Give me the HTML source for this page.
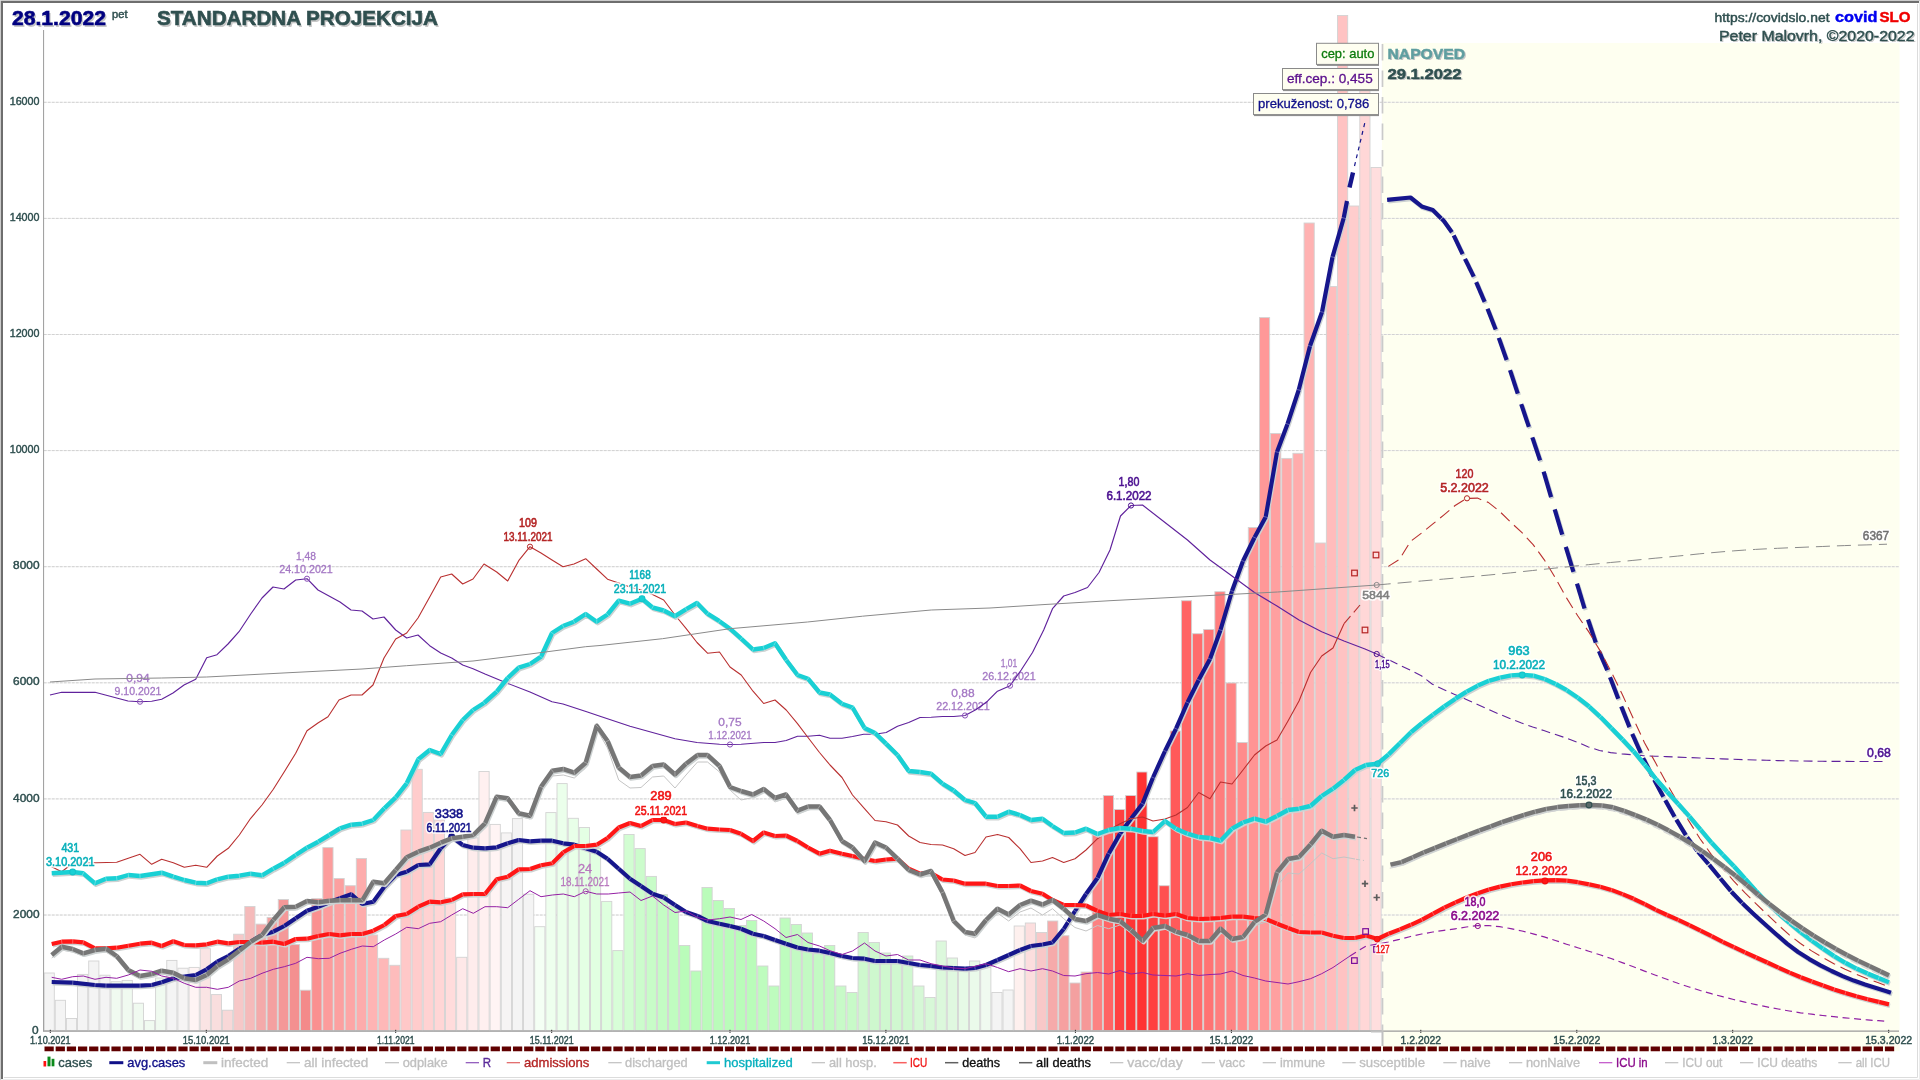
<!DOCTYPE html>
<html><head><meta charset="utf-8"><title>covidSLO</title>
<style>html,body{margin:0;padding:0;background:#fff;overflow:hidden}svg{display:block}text{font-family:"Liberation Sans",sans-serif}</style>
</head><body>
<svg width="1920" height="1080" viewBox="0 0 1920 1080" font-family="Liberation Sans, sans-serif">
<rect x="0" y="0" width="1920" height="1080" fill="#ffffff"/>
<defs><filter id="idf" x="0" y="0" width="1920" height="1080" filterUnits="userSpaceOnUse" color-interpolation-filters="sRGB"><feOffset dx="0" dy="0"/></filter></defs>
<g filter="url(#idf)">
<rect x="1382" y="43" width="517.5" height="1008" fill="#FEFFF0"/>
<line x1="44" y1="915.0" x2="1899" y2="915.0" stroke="#eeeeee" stroke-width="1"/>
<line x1="44" y1="915.0" x2="1899" y2="915.0" stroke="#d2d2d2" stroke-width="1" stroke-dasharray="2.6 1.4"/>
<line x1="44" y1="798.9" x2="1899" y2="798.9" stroke="#eeeeee" stroke-width="1"/>
<line x1="44" y1="798.9" x2="1899" y2="798.9" stroke="#d2d2d2" stroke-width="1" stroke-dasharray="2.6 1.4"/>
<line x1="44" y1="682.8" x2="1899" y2="682.8" stroke="#eeeeee" stroke-width="1"/>
<line x1="44" y1="682.8" x2="1899" y2="682.8" stroke="#d2d2d2" stroke-width="1" stroke-dasharray="2.6 1.4"/>
<line x1="44" y1="566.7" x2="1899" y2="566.7" stroke="#eeeeee" stroke-width="1"/>
<line x1="44" y1="566.7" x2="1899" y2="566.7" stroke="#d2d2d2" stroke-width="1" stroke-dasharray="2.6 1.4"/>
<line x1="44" y1="450.6" x2="1899" y2="450.6" stroke="#eeeeee" stroke-width="1"/>
<line x1="44" y1="450.6" x2="1899" y2="450.6" stroke="#d2d2d2" stroke-width="1" stroke-dasharray="2.6 1.4"/>
<line x1="44" y1="334.5" x2="1899" y2="334.5" stroke="#eeeeee" stroke-width="1"/>
<line x1="44" y1="334.5" x2="1899" y2="334.5" stroke="#d2d2d2" stroke-width="1" stroke-dasharray="2.6 1.4"/>
<line x1="44" y1="218.4" x2="1899" y2="218.4" stroke="#eeeeee" stroke-width="1"/>
<line x1="44" y1="218.4" x2="1899" y2="218.4" stroke="#d2d2d2" stroke-width="1" stroke-dasharray="2.6 1.4"/>
<line x1="44" y1="102.3" x2="1899" y2="102.3" stroke="#eeeeee" stroke-width="1"/>
<line x1="44" y1="102.3" x2="1899" y2="102.3" stroke="#d2d2d2" stroke-width="1" stroke-dasharray="2.6 1.4"/>
<rect x="44.10" y="973.0" width="10.2" height="57.6" fill="#F4F4F4" stroke="#d3d3d3" stroke-width="0.9"/>
<rect x="55.25" y="1000.3" width="10.2" height="30.3" fill="#F4F4F4" stroke="#d3d3d3" stroke-width="0.9"/>
<rect x="66.40" y="1018.5" width="10.2" height="12.1" fill="#F4F4F4" stroke="#d3d3d3" stroke-width="0.9"/>
<rect x="77.55" y="974.4" width="10.2" height="56.2" fill="#F4F4F4" stroke="#d3d3d3" stroke-width="0.9"/>
<rect x="88.70" y="961.0" width="10.2" height="69.6" fill="#F4F4F4" stroke="#d3d3d3" stroke-width="0.9"/>
<rect x="99.85" y="975.2" width="10.2" height="55.4" fill="#F4F4F4" stroke="#d3d3d3" stroke-width="0.9"/>
<rect x="111.00" y="981.7" width="10.2" height="48.9" fill="#F0FAF0" stroke="#d3d3d3" stroke-width="0.9"/>
<rect x="122.15" y="980.4" width="10.2" height="50.2" fill="#F0FAF0" stroke="#d3d3d3" stroke-width="0.9"/>
<rect x="133.30" y="1003.2" width="10.2" height="27.4" fill="#F0FAF0" stroke="#d3d3d3" stroke-width="0.9"/>
<rect x="144.45" y="1020.6" width="10.2" height="10.0" fill="#F0FAF0" stroke="#d3d3d3" stroke-width="0.9"/>
<rect x="155.60" y="978.0" width="10.2" height="52.6" fill="#F0FAF0" stroke="#d3d3d3" stroke-width="0.9"/>
<rect x="166.75" y="960.4" width="10.2" height="70.2" fill="#F4F4F4" stroke="#d3d3d3" stroke-width="0.9"/>
<rect x="177.90" y="968.2" width="10.2" height="62.4" fill="#F6F4F4" stroke="#d3d3d3" stroke-width="0.9"/>
<rect x="189.05" y="967.4" width="10.2" height="63.2" fill="#FFF4F4" stroke="#d3d3d3" stroke-width="0.9"/>
<rect x="200.20" y="948.7" width="10.2" height="81.9" fill="#FAE4E4" stroke="#d3d3d3" stroke-width="0.9"/>
<rect x="211.35" y="994.6" width="10.2" height="36.0" fill="#F9DEDE" stroke="#d3d3d3" stroke-width="0.9"/>
<rect x="222.50" y="1010.2" width="10.2" height="20.4" fill="#F8D8D8" stroke="#d3d3d3" stroke-width="0.9"/>
<rect x="233.65" y="934.2" width="10.2" height="96.4" fill="#F6C8C8" stroke="#d3d3d3" stroke-width="0.9"/>
<rect x="244.80" y="906.5" width="10.2" height="124.1" fill="#F5BABA" stroke="#d3d3d3" stroke-width="0.9"/>
<rect x="255.95" y="924.1" width="10.2" height="106.5" fill="#F4AAAA" stroke="#d3d3d3" stroke-width="0.9"/>
<rect x="267.10" y="917.4" width="10.2" height="113.2" fill="#F4A0A0" stroke="#d3d3d3" stroke-width="0.9"/>
<rect x="278.25" y="899.5" width="10.2" height="131.1" fill="#F49898" stroke="#d3d3d3" stroke-width="0.9"/>
<rect x="289.40" y="944.6" width="10.2" height="86.0" fill="#F49090" stroke="#d3d3d3" stroke-width="0.9"/>
<rect x="300.55" y="990.2" width="10.2" height="40.4" fill="#F48A8A" stroke="#d3d3d3" stroke-width="0.9"/>
<rect x="311.70" y="898.7" width="10.2" height="131.9" fill="#FA9090" stroke="#d3d3d3" stroke-width="0.9"/>
<rect x="322.85" y="847.6" width="10.2" height="183.0" fill="#FC9C9C" stroke="#d3d3d3" stroke-width="0.9"/>
<rect x="334.00" y="878.5" width="10.2" height="152.1" fill="#FCA0A0" stroke="#d3d3d3" stroke-width="0.9"/>
<rect x="345.15" y="885.7" width="10.2" height="144.9" fill="#FDA6A6" stroke="#d3d3d3" stroke-width="0.9"/>
<rect x="356.30" y="858.5" width="10.2" height="172.1" fill="#FDACAC" stroke="#d3d3d3" stroke-width="0.9"/>
<rect x="367.45" y="935.0" width="10.2" height="95.6" fill="#FEB4B4" stroke="#d3d3d3" stroke-width="0.9"/>
<rect x="378.60" y="958.3" width="10.2" height="72.3" fill="#FEB8B8" stroke="#d3d3d3" stroke-width="0.9"/>
<rect x="389.75" y="965.3" width="10.2" height="65.3" fill="#FEBCBC" stroke="#d3d3d3" stroke-width="0.9"/>
<rect x="400.90" y="830.0" width="10.2" height="200.6" fill="#FFC8C8" stroke="#d3d3d3" stroke-width="0.9"/>
<rect x="412.05" y="769.3" width="10.2" height="261.3" fill="#FFCCCC" stroke="#d3d3d3" stroke-width="0.9"/>
<rect x="423.20" y="812.4" width="10.2" height="218.2" fill="#FFD2D2" stroke="#d3d3d3" stroke-width="0.9"/>
<rect x="434.35" y="820.0" width="10.2" height="210.6" fill="#FFD6D6" stroke="#d3d3d3" stroke-width="0.9"/>
<rect x="445.50" y="898.0" width="10.2" height="132.6" fill="#FFDCDC" stroke="#d3d3d3" stroke-width="0.9"/>
<rect x="456.65" y="957.3" width="10.2" height="73.3" fill="#FEE8E8" stroke="#d3d3d3" stroke-width="0.9"/>
<rect x="467.80" y="837.8" width="10.2" height="192.8" fill="#FEECEC" stroke="#d3d3d3" stroke-width="0.9"/>
<rect x="478.95" y="771.5" width="10.2" height="259.1" fill="#FFF0F0" stroke="#d3d3d3" stroke-width="0.9"/>
<rect x="490.10" y="824.4" width="10.2" height="206.2" fill="#FFF4F4" stroke="#d3d3d3" stroke-width="0.9"/>
<rect x="501.25" y="832.9" width="10.2" height="197.7" fill="#F6F4F4" stroke="#d3d3d3" stroke-width="0.9"/>
<rect x="512.40" y="818.6" width="10.2" height="212.0" fill="#F4F4F4" stroke="#d3d3d3" stroke-width="0.9"/>
<rect x="523.55" y="894.2" width="10.2" height="136.4" fill="#F4F4F4" stroke="#d3d3d3" stroke-width="0.9"/>
<rect x="534.70" y="926.7" width="10.2" height="103.9" fill="#F4FFF4" stroke="#d3d3d3" stroke-width="0.9"/>
<rect x="545.85" y="812.6" width="10.2" height="218.0" fill="#EEFFEE" stroke="#d3d3d3" stroke-width="0.9"/>
<rect x="557.00" y="783.6" width="10.2" height="247.0" fill="#EBFFEB" stroke="#d3d3d3" stroke-width="0.9"/>
<rect x="568.15" y="818.3" width="10.2" height="212.3" fill="#E8FFE8" stroke="#d3d3d3" stroke-width="0.9"/>
<rect x="579.30" y="827.5" width="10.2" height="203.1" fill="#E4FFE4" stroke="#d3d3d3" stroke-width="0.9"/>
<rect x="590.45" y="848.5" width="10.2" height="182.1" fill="#E1FFE1" stroke="#d3d3d3" stroke-width="0.9"/>
<rect x="601.60" y="901.4" width="10.2" height="129.2" fill="#DEFFDE" stroke="#d3d3d3" stroke-width="0.9"/>
<rect x="612.75" y="950.6" width="10.2" height="80.0" fill="#D8FED8" stroke="#d3d3d3" stroke-width="0.9"/>
<rect x="623.90" y="834.5" width="10.2" height="196.1" fill="#D2FDD2" stroke="#d3d3d3" stroke-width="0.9"/>
<rect x="635.05" y="848.6" width="10.2" height="182.0" fill="#CCFCCC" stroke="#d3d3d3" stroke-width="0.9"/>
<rect x="646.20" y="876.4" width="10.2" height="154.2" fill="#C8FCC8" stroke="#d3d3d3" stroke-width="0.9"/>
<rect x="657.35" y="894.7" width="10.2" height="135.9" fill="#C4FCC4" stroke="#d3d3d3" stroke-width="0.9"/>
<rect x="668.50" y="906.0" width="10.2" height="124.6" fill="#C0FCC0" stroke="#d3d3d3" stroke-width="0.9"/>
<rect x="679.65" y="945.5" width="10.2" height="85.1" fill="#BAFCBA" stroke="#d3d3d3" stroke-width="0.9"/>
<rect x="690.80" y="971.0" width="10.2" height="59.6" fill="#BAFCBA" stroke="#d3d3d3" stroke-width="0.9"/>
<rect x="701.95" y="887.5" width="10.2" height="143.1" fill="#BAFCBA" stroke="#d3d3d3" stroke-width="0.9"/>
<rect x="713.10" y="900.5" width="10.2" height="130.1" fill="#BAFCBA" stroke="#d3d3d3" stroke-width="0.9"/>
<rect x="724.25" y="908.5" width="10.2" height="122.1" fill="#BAFCBA" stroke="#d3d3d3" stroke-width="0.9"/>
<rect x="735.40" y="925.5" width="10.2" height="105.1" fill="#BAFCBA" stroke="#d3d3d3" stroke-width="0.9"/>
<rect x="746.55" y="920.5" width="10.2" height="110.1" fill="#BAFCBA" stroke="#d3d3d3" stroke-width="0.9"/>
<rect x="757.70" y="966.0" width="10.2" height="64.6" fill="#BEFCBE" stroke="#d3d3d3" stroke-width="0.9"/>
<rect x="768.85" y="986.0" width="10.2" height="44.6" fill="#BEFCBE" stroke="#d3d3d3" stroke-width="0.9"/>
<rect x="780.00" y="918.0" width="10.2" height="112.6" fill="#BEFCBE" stroke="#d3d3d3" stroke-width="0.9"/>
<rect x="791.15" y="924.5" width="10.2" height="106.1" fill="#C3FAC3" stroke="#d3d3d3" stroke-width="0.9"/>
<rect x="802.30" y="933.0" width="10.2" height="97.6" fill="#C3FAC3" stroke="#d3d3d3" stroke-width="0.9"/>
<rect x="813.45" y="953.7" width="10.2" height="76.9" fill="#C3FAC3" stroke="#d3d3d3" stroke-width="0.9"/>
<rect x="824.60" y="945.5" width="10.2" height="85.1" fill="#C3FAC3" stroke="#d3d3d3" stroke-width="0.9"/>
<rect x="835.75" y="986.0" width="10.2" height="44.6" fill="#C8FAC8" stroke="#d3d3d3" stroke-width="0.9"/>
<rect x="846.90" y="992.5" width="10.2" height="38.1" fill="#C8FAC8" stroke="#d3d3d3" stroke-width="0.9"/>
<rect x="858.05" y="932.5" width="10.2" height="98.1" fill="#CEF8CE" stroke="#d3d3d3" stroke-width="0.9"/>
<rect x="869.20" y="942.5" width="10.2" height="88.1" fill="#CEF8CE" stroke="#d3d3d3" stroke-width="0.9"/>
<rect x="880.35" y="953.0" width="10.2" height="77.6" fill="#CFF8CF" stroke="#d3d3d3" stroke-width="0.9"/>
<rect x="891.50" y="960.0" width="10.2" height="70.6" fill="#D0F8D0" stroke="#d3d3d3" stroke-width="0.9"/>
<rect x="902.65" y="956.0" width="10.2" height="74.6" fill="#D0F8D0" stroke="#d3d3d3" stroke-width="0.9"/>
<rect x="913.80" y="986.0" width="10.2" height="44.6" fill="#D6F8D6" stroke="#d3d3d3" stroke-width="0.9"/>
<rect x="924.95" y="997.5" width="10.2" height="33.1" fill="#D8F8D8" stroke="#d3d3d3" stroke-width="0.9"/>
<rect x="936.10" y="941.0" width="10.2" height="89.6" fill="#DCF8DC" stroke="#d3d3d3" stroke-width="0.9"/>
<rect x="947.25" y="958.0" width="10.2" height="72.6" fill="#E0F8E0" stroke="#d3d3d3" stroke-width="0.9"/>
<rect x="958.40" y="967.5" width="10.2" height="63.1" fill="#E6FAE6" stroke="#d3d3d3" stroke-width="0.9"/>
<rect x="969.55" y="961.0" width="10.2" height="69.6" fill="#EAFAEA" stroke="#d3d3d3" stroke-width="0.9"/>
<rect x="980.70" y="967.5" width="10.2" height="63.1" fill="#F0FAF0" stroke="#d3d3d3" stroke-width="0.9"/>
<rect x="991.85" y="992.5" width="10.2" height="38.1" fill="#F4F4F4" stroke="#d3d3d3" stroke-width="0.9"/>
<rect x="1003.00" y="990.0" width="10.2" height="40.6" fill="#F4F4F4" stroke="#d3d3d3" stroke-width="0.9"/>
<rect x="1014.15" y="926.0" width="10.2" height="104.6" fill="#FEF0EE" stroke="#d3d3d3" stroke-width="0.9"/>
<rect x="1025.30" y="923.0" width="10.2" height="107.6" fill="#FCDEDE" stroke="#d3d3d3" stroke-width="0.9"/>
<rect x="1036.45" y="932.5" width="10.2" height="98.1" fill="#F8C8C8" stroke="#d3d3d3" stroke-width="0.9"/>
<rect x="1047.60" y="921.0" width="10.2" height="109.6" fill="#F6AAAA" stroke="#d3d3d3" stroke-width="0.9"/>
<rect x="1058.75" y="935.7" width="10.2" height="94.9" fill="#F6A0A0" stroke="#d3d3d3" stroke-width="0.9"/>
<rect x="1069.90" y="983.0" width="10.2" height="47.6" fill="#F4A0A0" stroke="#d3d3d3" stroke-width="0.9"/>
<rect x="1081.05" y="972.0" width="10.2" height="58.6" fill="#F69898" stroke="#d3d3d3" stroke-width="0.9"/>
<rect x="1092.20" y="834.5" width="10.2" height="196.1" fill="#FC8282" stroke="#d3d3d3" stroke-width="0.9"/>
<rect x="1103.35" y="795.5" width="10.2" height="235.1" fill="#FF6464" stroke="#d3d3d3" stroke-width="0.9"/>
<rect x="1114.50" y="809.5" width="10.2" height="221.1" fill="#FF4040" stroke="#d3d3d3" stroke-width="0.9"/>
<rect x="1125.65" y="795.5" width="10.2" height="235.1" fill="#FF3434" stroke="#d3d3d3" stroke-width="0.9"/>
<rect x="1136.80" y="772.0" width="10.2" height="258.6" fill="#FF3232" stroke="#d3d3d3" stroke-width="0.9"/>
<rect x="1147.95" y="836.7" width="10.2" height="193.9" fill="#FF4040" stroke="#d3d3d3" stroke-width="0.9"/>
<rect x="1159.10" y="885.7" width="10.2" height="144.9" fill="#FF5050" stroke="#d3d3d3" stroke-width="0.9"/>
<rect x="1170.25" y="731.0" width="10.2" height="299.6" fill="#FF5A5A" stroke="#d3d3d3" stroke-width="0.9"/>
<rect x="1181.40" y="600.7" width="10.2" height="429.9" fill="#FF6464" stroke="#d3d3d3" stroke-width="0.9"/>
<rect x="1192.55" y="633.7" width="10.2" height="396.9" fill="#FF6C6C" stroke="#d3d3d3" stroke-width="0.9"/>
<rect x="1203.70" y="629.5" width="10.2" height="401.1" fill="#FF7373" stroke="#d3d3d3" stroke-width="0.9"/>
<rect x="1214.85" y="591.7" width="10.2" height="438.9" fill="#FF7D7D" stroke="#d3d3d3" stroke-width="0.9"/>
<rect x="1226.00" y="683.0" width="10.2" height="347.6" fill="#FF8484" stroke="#d3d3d3" stroke-width="0.9"/>
<rect x="1237.15" y="742.5" width="10.2" height="288.1" fill="#FF8C8C" stroke="#d3d3d3" stroke-width="0.9"/>
<rect x="1248.30" y="527.5" width="10.2" height="503.1" fill="#FF9494" stroke="#d3d3d3" stroke-width="0.9"/>
<rect x="1259.45" y="317.6" width="10.2" height="713.0" fill="#FF9898" stroke="#d3d3d3" stroke-width="0.9"/>
<rect x="1270.60" y="433.5" width="10.2" height="597.1" fill="#FFA0A0" stroke="#d3d3d3" stroke-width="0.9"/>
<rect x="1281.75" y="458.4" width="10.2" height="572.2" fill="#FFA8A8" stroke="#d3d3d3" stroke-width="0.9"/>
<rect x="1292.90" y="453.3" width="10.2" height="577.3" fill="#FFACAC" stroke="#d3d3d3" stroke-width="0.9"/>
<rect x="1304.05" y="223.0" width="10.2" height="807.6" fill="#FFB2B2" stroke="#d3d3d3" stroke-width="0.9"/>
<rect x="1315.20" y="543.0" width="10.2" height="487.6" fill="#FFB9B9" stroke="#d3d3d3" stroke-width="0.9"/>
<rect x="1326.35" y="286.5" width="10.2" height="744.1" fill="#FFBCBC" stroke="#d3d3d3" stroke-width="0.9"/>
<rect x="1337.50" y="15.5" width="10.2" height="1015.1" fill="#FFC3C3" stroke="#d3d3d3" stroke-width="0.9"/>
<rect x="1348.65" y="206.0" width="10.2" height="824.6" fill="#FFCDCD" stroke="#d3d3d3" stroke-width="0.9"/>
<rect x="1359.80" y="90.0" width="10.2" height="940.6" fill="#FFD7D7" stroke="#d3d3d3" stroke-width="0.9"/>
<rect x="1370.95" y="167.5" width="10.2" height="863.1" fill="#FFDEDE" stroke="#d3d3d3" stroke-width="0.9"/>
<line x1="43.6" y1="30" x2="43.6" y2="1031.5" stroke="#9a9a9a" stroke-width="1"/>
<line x1="43.2" y1="1031.1" x2="1899" y2="1031.1" stroke="#9a9a9a" stroke-width="1.3"/>
<line x1="1382.5" y1="44" x2="1382.5" y2="1030" stroke="#cacaca" stroke-width="1.7" stroke-dasharray="16.5 10"/>
<path d="M1371,1031.5 H1382.5 V1046" fill="none" stroke="#c0c0c0" stroke-width="2"/>
<text x="38.6" y="1033.7" font-size="11.5" text-anchor="end" font-weight="normal" textLength="6.6" lengthAdjust="spacingAndGlyphs"  fill="#2F4F4F" stroke="#2F4F4F" stroke-width="0.45">0</text>
<text x="39.5" y="917.6" font-size="11.5" text-anchor="end" font-weight="normal" textLength="26.4" lengthAdjust="spacingAndGlyphs"  fill="#2F4F4F" stroke="#2F4F4F" stroke-width="0.45">2000</text>
<text x="39.5" y="801.5" font-size="11.5" text-anchor="end" font-weight="normal" textLength="26.4" lengthAdjust="spacingAndGlyphs"  fill="#2F4F4F" stroke="#2F4F4F" stroke-width="0.45">4000</text>
<text x="39.5" y="685.4" font-size="11.5" text-anchor="end" font-weight="normal" textLength="26.4" lengthAdjust="spacingAndGlyphs"  fill="#2F4F4F" stroke="#2F4F4F" stroke-width="0.45">6000</text>
<text x="39.5" y="569.3" font-size="11.5" text-anchor="end" font-weight="normal" textLength="26.4" lengthAdjust="spacingAndGlyphs"  fill="#2F4F4F" stroke="#2F4F4F" stroke-width="0.45">8000</text>
<text x="39.5" y="453.2" font-size="11.5" text-anchor="end" font-weight="normal" textLength="29.8" lengthAdjust="spacingAndGlyphs"  fill="#2F4F4F" stroke="#2F4F4F" stroke-width="0.45">10000</text>
<text x="39.5" y="337.1" font-size="11.5" text-anchor="end" font-weight="normal" textLength="29.8" lengthAdjust="spacingAndGlyphs"  fill="#2F4F4F" stroke="#2F4F4F" stroke-width="0.45">12000</text>
<text x="39.5" y="221.0" font-size="11.5" text-anchor="end" font-weight="normal" textLength="29.8" lengthAdjust="spacingAndGlyphs"  fill="#2F4F4F" stroke="#2F4F4F" stroke-width="0.45">14000</text>
<text x="39.5" y="104.9" font-size="11.5" text-anchor="end" font-weight="normal" textLength="29.8" lengthAdjust="spacingAndGlyphs"  fill="#2F4F4F" stroke="#2F4F4F" stroke-width="0.45">16000</text>
<line x1="50.3" y1="1029.8" x2="50.3" y2="1033" stroke="#303030" stroke-width="1" stroke-dasharray="1.2 0.8"/>
<text x="50.3" y="1044.0" font-size="11.5" text-anchor="middle" font-weight="normal" textLength="40.7" lengthAdjust="spacingAndGlyphs"  fill="#2F4F4F" stroke="#2F4F4F" stroke-width="0.45">1.10.2021</text>
<line x1="206.3" y1="1029.8" x2="206.3" y2="1033" stroke="#303030" stroke-width="1" stroke-dasharray="1.2 0.8"/>
<text x="206.3" y="1044.0" font-size="11.5" text-anchor="middle" font-weight="normal" textLength="47.1" lengthAdjust="spacingAndGlyphs"  fill="#2F4F4F" stroke="#2F4F4F" stroke-width="0.45">15.10.2021</text>
<line x1="395.7" y1="1029.8" x2="395.7" y2="1033" stroke="#303030" stroke-width="1" stroke-dasharray="1.2 0.8"/>
<text x="395.7" y="1044.0" font-size="11.5" text-anchor="middle" font-weight="normal" textLength="37.5" lengthAdjust="spacingAndGlyphs"  fill="#2F4F4F" stroke="#2F4F4F" stroke-width="0.45">1.11.2021</text>
<line x1="551.7" y1="1029.8" x2="551.7" y2="1033" stroke="#303030" stroke-width="1" stroke-dasharray="1.2 0.8"/>
<text x="551.7" y="1044.0" font-size="11.5" text-anchor="middle" font-weight="normal" textLength="43.9" lengthAdjust="spacingAndGlyphs"  fill="#2F4F4F" stroke="#2F4F4F" stroke-width="0.45">15.11.2021</text>
<line x1="730.0" y1="1029.8" x2="730.0" y2="1033" stroke="#303030" stroke-width="1" stroke-dasharray="1.2 0.8"/>
<text x="730.0" y="1044.0" font-size="11.5" text-anchor="middle" font-weight="normal" textLength="40.7" lengthAdjust="spacingAndGlyphs"  fill="#2F4F4F" stroke="#2F4F4F" stroke-width="0.45">1.12.2021</text>
<line x1="885.9" y1="1029.8" x2="885.9" y2="1033" stroke="#303030" stroke-width="1" stroke-dasharray="1.2 0.8"/>
<text x="885.9" y="1044.0" font-size="11.5" text-anchor="middle" font-weight="normal" textLength="47.1" lengthAdjust="spacingAndGlyphs"  fill="#2F4F4F" stroke="#2F4F4F" stroke-width="0.45">15.12.2021</text>
<line x1="1075.4" y1="1029.8" x2="1075.4" y2="1033" stroke="#303030" stroke-width="1" stroke-dasharray="1.2 0.8"/>
<text x="1075.4" y="1044.0" font-size="11.5" text-anchor="middle" font-weight="normal" textLength="37.4" lengthAdjust="spacingAndGlyphs"  fill="#2F4F4F" stroke="#2F4F4F" stroke-width="0.45">1.1.2022</text>
<line x1="1231.4" y1="1029.8" x2="1231.4" y2="1033" stroke="#303030" stroke-width="1" stroke-dasharray="1.2 0.8"/>
<text x="1231.4" y="1044.0" font-size="11.5" text-anchor="middle" font-weight="normal" textLength="43.8" lengthAdjust="spacingAndGlyphs"  fill="#2F4F4F" stroke="#2F4F4F" stroke-width="0.45">15.1.2022</text>
<line x1="1420.8" y1="1029.8" x2="1420.8" y2="1033" stroke="#303030" stroke-width="1" stroke-dasharray="1.2 0.8"/>
<text x="1420.8" y="1044.0" font-size="11.5" text-anchor="middle" font-weight="normal" textLength="40.6" lengthAdjust="spacingAndGlyphs"  fill="#2F4F4F" stroke="#2F4F4F" stroke-width="0.45">1.2.2022</text>
<line x1="1576.8" y1="1029.8" x2="1576.8" y2="1033" stroke="#303030" stroke-width="1" stroke-dasharray="1.2 0.8"/>
<text x="1576.8" y="1044.0" font-size="11.5" text-anchor="middle" font-weight="normal" textLength="47.0" lengthAdjust="spacingAndGlyphs"  fill="#2F4F4F" stroke="#2F4F4F" stroke-width="0.45">15.2.2022</text>
<line x1="1732.7" y1="1029.8" x2="1732.7" y2="1033" stroke="#303030" stroke-width="1" stroke-dasharray="1.2 0.8"/>
<text x="1732.7" y="1044.0" font-size="11.5" text-anchor="middle" font-weight="normal" textLength="40.6" lengthAdjust="spacingAndGlyphs"  fill="#2F4F4F" stroke="#2F4F4F" stroke-width="0.45">1.3.2022</text>
<line x1="1888.7" y1="1029.8" x2="1888.7" y2="1033" stroke="#303030" stroke-width="1" stroke-dasharray="1.2 0.8"/>
<text x="1888.7" y="1044.0" font-size="11.5" text-anchor="middle" font-weight="normal" textLength="47.0" lengthAdjust="spacingAndGlyphs"  fill="#2F4F4F" stroke="#2F4F4F" stroke-width="0.45">15.3.2022</text>
<line x1="44.5" y1="1048.9" x2="1894.5" y2="1048.9" stroke="#600000" stroke-width="4.7" stroke-dasharray="9.25 1.904"/>
<polyline points="52.7,983.5 73.7,984.2 96.0,986.5 107.0,987.2 141.0,987.2 152.7,986.5 162.7,983.8 174.3,979.8 185.3,978.2 196.7,976.5 207.7,970.8 218.3,963.2 229.3,957.5 240.3,950.2 251.7,943.2 263.0,936.5 274.3,933.2 285.3,927.5 296.7,919.8 308.0,912.2 319.3,908.2 330.3,903.8 341.0,899.8 352.3,895.8 363.3,905.5 374.3,903.2 385.3,888.2 396.7,876.5 407.7,873.2 419.3,866.5 430.7,865.8 441.7,849.8 452.7,838.2 463.7,846.5 474.3,849.2 486.0,849.8 497.7,848.8 508.7,844.8 519.7,841.5 531.0,842.8 542.0,842.2 553.3,842.2 564.3,844.8 575.3,846.2 586.7,849.8 597.7,853.2 608.5,860.2 619.7,870.2 631.0,880.2 642.0,887.5 653.5,895.2 664.7,899.0 676.0,906.5 687.0,913.5 698.5,917.5 708.5,922.5 720.5,925.2 731.0,927.5 742.0,930.2 754.0,935.2 764.7,937.5 776.0,941.5 787.0,945.2 798.5,949.0 809.0,951.0 820.5,952.2 831.0,954.5 843.0,957.5 853.5,959.5 865.5,960.2 876.0,962.5 887.0,962.5 898.5,962.5 909.7,964.5 921.0,966.5 932.0,967.5 943.5,969.0 954.7,969.5 966.0,970.2 976.0,969.5 987.0,966.5 998.5,961.5 1009.7,956.5 1021.0,951.5 1032.0,947.5 1043.5,946.0 1053.5,944.0 1064.7,930.5 1076.0,912.5 1087.0,895.5 1098.5,879.5 1109.7,855.2 1121.0,835.2 1132.0,820.2 1143.5,805.2 1154.0,779.0 1166.0,752.5 1177.0,730.2 1188.5,704.0 1199.7,681.5 1211.0,660.5 1221.5,631.5 1233.0,592.5 1244.0,562.5 1255.5,539.0 1266.7,518.5 1278.0,453.5 1288.5,425.5 1299.7,391.5 1311.0,347.5 1323.0,313.5 1333.5,258.5 1344.7,219.5 1348.0,202.5" fill="none" stroke="#cdd2d2" stroke-width="4.2" stroke-linejoin="round" stroke-linecap="butt"/>
<polyline points="51.7,982.0 72.7,982.7 95.0,985.0 106.0,985.7 140.0,985.7 151.7,985.0 161.7,982.3 173.3,978.3 184.3,976.7 195.7,975.0 206.7,969.3 217.3,961.7 228.3,956.0 239.3,948.7 250.7,941.7 262.0,935.0 273.3,931.7 284.3,926.0 295.7,918.3 307.0,910.7 318.3,906.7 329.3,902.3 340.0,898.3 351.3,894.3 362.3,904.0 373.3,901.7 384.3,886.7 395.7,875.0 406.7,871.7 418.3,865.0 429.7,864.3 440.7,848.3 451.7,836.7 462.7,845.0 473.3,847.7 485.0,848.3 496.7,847.3 507.7,843.3 518.7,840.0 530.0,841.3 541.0,840.7 552.3,840.7 563.3,843.3 574.3,844.7 585.7,848.3 596.7,851.7 607.5,858.7 618.7,868.7 630.0,878.7 641.0,886.0 652.5,893.7 663.7,897.5 675.0,905.0 686.0,912.0 697.5,916.0 707.5,921.0 719.5,923.7 730.0,926.0 741.0,928.7 753.0,933.7 763.7,936.0 775.0,940.0 786.0,943.7 797.5,947.5 808.0,949.5 819.5,950.7 830.0,953.0 842.0,956.0 852.5,958.0 864.5,958.7 875.0,961.0 886.0,961.0 897.5,961.0 908.7,963.0 920.0,965.0 931.0,966.0 942.5,967.5 953.7,968.0 965.0,968.7 975.0,968.0 986.0,965.0 997.5,960.0 1008.7,955.0 1020.0,950.0 1031.0,946.0 1042.5,944.5 1052.5,942.5 1063.7,929.0 1075.0,911.0 1086.0,894.0 1097.5,878.0 1108.7,853.7 1120.0,833.7 1131.0,818.7 1142.5,803.7 1153.0,777.5 1165.0,751.0 1176.0,728.7 1187.5,702.5 1198.7,680.0 1210.0,659.0 1220.5,630.0 1232.0,591.0 1243.0,561.0 1254.5,537.5 1265.7,517.0 1277.0,452.0 1287.5,424.0 1298.7,390.0 1310.0,346.0 1322.0,312.0 1332.5,257.0 1343.7,218.0 1347.0,201.0" fill="none" stroke="#16168C" stroke-width="4.2" stroke-linejoin="round" stroke-linecap="butt"/>
<path d="M72.9,980.3l-0.3,4.8M95.2,982.6l-0.4,4.8M106.0,983.3l-0.1,4.8M140.0,983.3l0.1,4.8M151.3,982.6l0.7,4.7M161.0,980.0l1.4,4.6M172.7,976.0l1.2,4.7M184.0,974.3l0.7,4.7M194.9,972.7l1.5,4.6M205.4,967.3l2.5,4.1M216.0,959.7l2.5,4.1M227.1,953.9l2.4,4.1M238.0,946.7l2.6,4.0M249.5,939.6l2.5,4.1M261.0,932.8l1.9,4.4M272.4,929.5l1.8,4.5M283.1,923.9l2.5,4.1M294.4,916.3l2.7,4.0M305.9,908.6l2.2,4.3M317.5,904.5l1.7,4.5M328.4,900.1l1.7,4.5M339.2,896.0l1.6,4.5M351.9,892.0l-1.2,4.7M363.1,901.7l-1.5,4.5M371.8,899.8l3.0,3.8M382.5,885.2l3.7,3.1M394.4,873.0l2.7,4.0M405.7,869.5l1.9,4.4M417.6,862.7l1.5,4.6M428.3,862.4l2.9,3.8M438.8,846.8l3.8,3.0M451.3,834.3l0.7,4.7M463.8,842.9l-2.2,4.3M473.7,845.3l-0.7,4.7M485.0,845.9l0.1,4.8M496.2,845.0l1.0,4.7M506.9,841.0l1.5,4.6M518.5,837.6l0.4,4.8M530.1,838.9l-0.2,4.8M540.9,838.3l0.1,4.8M552.6,838.3l-0.6,4.8M563.7,840.9l-0.9,4.7M574.8,842.4l-1.0,4.7M586.4,846.0l-1.4,4.6M597.7,849.5l-2.1,4.3M609.0,856.8l-2.9,3.8M620.3,866.9l-3.2,3.6M631.5,876.8l-2.9,3.8M642.3,884.0l-2.7,4.0M653.6,891.6l-2.2,4.3M664.8,895.4l-2.2,4.3M676.3,903.0l-2.6,4.0M687.1,909.8l-2.1,4.3M698.4,913.8l-1.9,4.4M708.3,918.7l-1.6,4.5M720.0,921.4l-1.0,4.7M730.5,923.7l-1.1,4.7M741.8,926.4l-1.5,4.6M753.7,931.4l-1.5,4.6M764.4,933.7l-1.3,4.6M775.8,937.7l-1.6,4.5M786.8,941.4l-1.5,4.6M798.1,945.2l-1.2,4.6M808.3,947.1l-0.7,4.8M819.9,948.3l-0.8,4.7M830.6,950.7l-1.1,4.7M842.5,953.7l-1.0,4.7M852.8,955.6l-0.6,4.8M864.8,956.3l-0.6,4.8M875.3,958.6l-0.5,4.8M886.0,958.6l0.0,4.8M897.7,958.6l-0.4,4.8M909.1,960.6l-0.8,4.7M920.3,962.6l-0.6,4.8M931.3,963.6l-0.5,4.8M942.7,965.1l-0.4,4.8M953.8,965.6l-0.3,4.8M965.0,966.3l0.0,4.8M974.6,965.6l0.8,4.7M985.2,962.7l1.6,4.5M996.5,957.8l1.9,4.4M1007.7,952.8l1.9,4.4M1019.1,947.8l1.8,4.5M1030.4,943.7l1.1,4.7M1042.1,942.1l0.8,4.7M1051.1,940.6l2.8,3.9M1061.7,927.6l3.9,2.8M1073.0,909.7l4.0,2.6M1084.0,892.6l4.0,2.7M1095.4,876.8l4.2,2.4M1106.6,852.6l4.3,2.2M1118.0,832.4l4.0,2.6M1129.1,817.3l3.8,2.9M1140.4,802.6l4.2,2.3M1150.8,776.6l4.4,1.9M1162.8,750.0l4.3,2.0M1173.8,727.7l4.4,2.0M1185.3,701.5l4.4,2.0M1196.6,678.9l4.3,2.2M1207.8,658.0l4.4,1.9M1218.2,629.3l4.6,1.5M1229.7,590.3l4.6,1.5M1240.8,560.1l4.4,1.9M1252.4,536.4l4.3,2.2M1263.4,516.4l4.6,1.2M1274.7,451.5l4.7,1.1M1285.2,423.2l4.5,1.6M1296.4,389.3l4.6,1.3M1307.7,345.3l4.6,1.4M1319.7,311.4l4.7,1.2M1330.2,256.5l4.7,1.1M1341.4,217.4l4.6,1.2" fill="none" stroke="#ffffff" stroke-opacity="0.38" stroke-width="0.8"/>
<line x1="1349.5" y1="187.5" x2="1353" y2="172.5" stroke="#16168C" stroke-width="4.4"/>
<line x1="1354.5" y1="166" x2="1365.5" y2="120" stroke="#16168C" stroke-width="1.2" stroke-dasharray="4 4"/>
<polyline points="1390.4,201.3 1411.7,199.1 1422.9,208.0 1434.0,211.6 1441.0,218.6" fill="none" stroke="#cdd2d2" stroke-width="4.2" stroke-linecap="square" stroke-linejoin="round"/>
<polyline points="1444.4,221.9 1445.1,222.6 1451.9,232.2" fill="none" stroke="#cdd2d2" stroke-width="4.2" stroke-linecap="square" stroke-linejoin="round"/>
<polyline points="1455.8,238.9 1462.9,253.8" fill="none" stroke="#cdd2d2" stroke-width="4.2" stroke-linecap="square" stroke-linejoin="round"/>
<polyline points="1467.1,262.3 1474.0,276.4" fill="none" stroke="#cdd2d2" stroke-width="4.2" stroke-linecap="square" stroke-linejoin="round"/>
<polyline points="1478.2,285.6 1485.0,301.6" fill="none" stroke="#cdd2d2" stroke-width="4.2" stroke-linecap="square" stroke-linejoin="round"/>
<polyline points="1489.5,312.4 1496.1,329.1" fill="none" stroke="#cdd2d2" stroke-width="4.2" stroke-linecap="square" stroke-linejoin="round"/>
<polyline points="1500.7,341.5 1507.1,359.6" fill="none" stroke="#cdd2d2" stroke-width="4.2" stroke-linecap="square" stroke-linejoin="round"/>
<polyline points="1511.9,373.7 1518.3,393.2" fill="none" stroke="#cdd2d2" stroke-width="4.2" stroke-linecap="square" stroke-linejoin="round"/>
<polyline points="1523.1,407.7 1529.4,426.5" fill="none" stroke="#cdd2d2" stroke-width="4.2" stroke-linecap="square" stroke-linejoin="round"/>
<polyline points="1534.2,440.9 1540.6,460.0" fill="none" stroke="#cdd2d2" stroke-width="4.2" stroke-linecap="square" stroke-linejoin="round"/>
<polyline points="1545.4,475.3 1551.7,496.7" fill="none" stroke="#cdd2d2" stroke-width="4.2" stroke-linecap="square" stroke-linejoin="round"/>
<polyline points="1556.5,512.9 1562.8,534.3" fill="none" stroke="#cdd2d2" stroke-width="4.2" stroke-linecap="square" stroke-linejoin="round"/>
<polyline points="1567.6,550.4 1574.0,571.4" fill="none" stroke="#cdd2d2" stroke-width="4.2" stroke-linecap="square" stroke-linejoin="round"/>
<polyline points="1578.8,587.3 1585.1,608.1" fill="none" stroke="#cdd2d2" stroke-width="4.2" stroke-linecap="square" stroke-linejoin="round"/>
<polyline points="1589.9,623.1 1596.3,642.2" fill="none" stroke="#cdd2d2" stroke-width="4.2" stroke-linecap="square" stroke-linejoin="round"/>
<polyline points="1601.0,654.6 1607.6,669.9" fill="none" stroke="#cdd2d2" stroke-width="4.2" stroke-linecap="square" stroke-linejoin="round"/>
<polyline points="1612.0,680.9 1618.7,698.3" fill="none" stroke="#cdd2d2" stroke-width="4.2" stroke-linecap="square" stroke-linejoin="round"/>
<polyline points="1623.2,710.0 1629.9,726.8" fill="none" stroke="#cdd2d2" stroke-width="4.2" stroke-linecap="square" stroke-linejoin="round"/>
<polyline points="1634.3,737.4 1641.1,752.7" fill="none" stroke="#cdd2d2" stroke-width="4.2" stroke-linecap="square" stroke-linejoin="round"/>
<polyline points="1645.3,761.6 1652.3,775.5" fill="none" stroke="#cdd2d2" stroke-width="4.2" stroke-linecap="square" stroke-linejoin="round"/>
<polyline points="1656.4,783.3 1663.5,796.5" fill="none" stroke="#cdd2d2" stroke-width="4.2" stroke-linecap="square" stroke-linejoin="round"/>
<polyline points="1667.5,803.7 1674.7,816.5" fill="none" stroke="#cdd2d2" stroke-width="4.2" stroke-linecap="square" stroke-linejoin="round"/>
<polyline points="1678.6,823.0 1685.9,834.9" fill="none" stroke="#cdd2d2" stroke-width="4.2" stroke-linecap="square" stroke-linejoin="round"/>
<polyline points="1689.6,840.5 1697.2,850.7" fill="none" stroke="#cdd2d2" stroke-width="4.2" stroke-linecap="square" stroke-linejoin="round"/>
<polyline points="1700.7,855.1 1708.3,864.0" fill="none" stroke="#cdd2d2" stroke-width="4.2" stroke-linecap="square" stroke-linejoin="round"/>
<polyline points="1711.8,868.1 1719.5,877.5" fill="none" stroke="#cdd2d2" stroke-width="4.2" stroke-linecap="square" stroke-linejoin="round"/>
<polyline points="1722.9,881.7 1730.6,890.9" fill="none" stroke="#cdd2d2" stroke-width="4.2" stroke-linecap="square" stroke-linejoin="round"/>
<polyline points="1734.0,894.8 1741.8,903.0" fill="none" stroke="#cdd2d2" stroke-width="4.2" stroke-linecap="square" stroke-linejoin="round"/>
<polyline points="1745.1,906.3 1754.8,915.5 1765.9,925.6 1777.1,935.6 1788.2,945.2 1799.3,953.6 1810.5,960.7 1821.6,966.9 1832.8,972.6 1843.9,977.7 1855.0,982.2 1866.2,986.1 1877.3,989.6 1888.5,993.0 1890.2,993.6" fill="none" stroke="#cdd2d2" stroke-width="4.2" stroke-linecap="square" stroke-linejoin="round"/>
<polyline points="1389.2,199.7 1410.5,197.5 1421.7,206.4 1432.8,210.0 1439.8,217.0" fill="none" stroke="#16168C" stroke-width="4.2" stroke-linecap="square" stroke-linejoin="round"/>
<polyline points="1443.2,220.3 1443.9,221.0 1450.7,230.6" fill="none" stroke="#16168C" stroke-width="4.2" stroke-linecap="square" stroke-linejoin="round"/>
<polyline points="1454.6,237.3 1461.7,252.2" fill="none" stroke="#16168C" stroke-width="4.2" stroke-linecap="square" stroke-linejoin="round"/>
<polyline points="1465.9,260.7 1472.8,274.8" fill="none" stroke="#16168C" stroke-width="4.2" stroke-linecap="square" stroke-linejoin="round"/>
<polyline points="1477.0,284.0 1483.8,300.0" fill="none" stroke="#16168C" stroke-width="4.2" stroke-linecap="square" stroke-linejoin="round"/>
<polyline points="1488.3,310.8 1494.9,327.5" fill="none" stroke="#16168C" stroke-width="4.2" stroke-linecap="square" stroke-linejoin="round"/>
<polyline points="1499.5,339.9 1505.9,358.0" fill="none" stroke="#16168C" stroke-width="4.2" stroke-linecap="square" stroke-linejoin="round"/>
<polyline points="1510.7,372.1 1517.1,391.6" fill="none" stroke="#16168C" stroke-width="4.2" stroke-linecap="square" stroke-linejoin="round"/>
<polyline points="1521.9,406.1 1528.2,424.9" fill="none" stroke="#16168C" stroke-width="4.2" stroke-linecap="square" stroke-linejoin="round"/>
<polyline points="1533.0,439.3 1539.4,458.4" fill="none" stroke="#16168C" stroke-width="4.2" stroke-linecap="square" stroke-linejoin="round"/>
<polyline points="1544.2,473.7 1550.5,495.1" fill="none" stroke="#16168C" stroke-width="4.2" stroke-linecap="square" stroke-linejoin="round"/>
<polyline points="1555.3,511.3 1561.6,532.7" fill="none" stroke="#16168C" stroke-width="4.2" stroke-linecap="square" stroke-linejoin="round"/>
<polyline points="1566.4,548.8 1572.8,569.8" fill="none" stroke="#16168C" stroke-width="4.2" stroke-linecap="square" stroke-linejoin="round"/>
<polyline points="1577.6,585.7 1583.9,606.5" fill="none" stroke="#16168C" stroke-width="4.2" stroke-linecap="square" stroke-linejoin="round"/>
<polyline points="1588.7,621.5 1595.1,640.6" fill="none" stroke="#16168C" stroke-width="4.2" stroke-linecap="square" stroke-linejoin="round"/>
<polyline points="1599.8,653.0 1606.4,668.3" fill="none" stroke="#16168C" stroke-width="4.2" stroke-linecap="square" stroke-linejoin="round"/>
<polyline points="1610.8,679.3 1617.5,696.7" fill="none" stroke="#16168C" stroke-width="4.2" stroke-linecap="square" stroke-linejoin="round"/>
<polyline points="1622.0,708.4 1628.7,725.2" fill="none" stroke="#16168C" stroke-width="4.2" stroke-linecap="square" stroke-linejoin="round"/>
<polyline points="1633.1,735.8 1639.9,751.1" fill="none" stroke="#16168C" stroke-width="4.2" stroke-linecap="square" stroke-linejoin="round"/>
<polyline points="1644.1,760.0 1651.1,773.9" fill="none" stroke="#16168C" stroke-width="4.2" stroke-linecap="square" stroke-linejoin="round"/>
<polyline points="1655.2,781.7 1662.3,794.9" fill="none" stroke="#16168C" stroke-width="4.2" stroke-linecap="square" stroke-linejoin="round"/>
<polyline points="1666.3,802.1 1673.5,814.9" fill="none" stroke="#16168C" stroke-width="4.2" stroke-linecap="square" stroke-linejoin="round"/>
<polyline points="1677.4,821.4 1684.7,833.3" fill="none" stroke="#16168C" stroke-width="4.2" stroke-linecap="square" stroke-linejoin="round"/>
<polyline points="1688.4,838.9 1696.0,849.1" fill="none" stroke="#16168C" stroke-width="4.2" stroke-linecap="square" stroke-linejoin="round"/>
<polyline points="1699.5,853.5 1707.1,862.4" fill="none" stroke="#16168C" stroke-width="4.2" stroke-linecap="square" stroke-linejoin="round"/>
<polyline points="1710.6,866.5 1718.3,875.9" fill="none" stroke="#16168C" stroke-width="4.2" stroke-linecap="square" stroke-linejoin="round"/>
<polyline points="1721.7,880.1 1729.4,889.3" fill="none" stroke="#16168C" stroke-width="4.2" stroke-linecap="square" stroke-linejoin="round"/>
<polyline points="1732.8,893.2 1740.6,901.4" fill="none" stroke="#16168C" stroke-width="4.2" stroke-linecap="square" stroke-linejoin="round"/>
<polyline points="1743.9,904.7 1753.6,913.9 1764.7,924.0 1775.9,934.0 1787.0,943.6 1798.1,952.0 1809.3,959.1 1820.4,965.3 1831.6,971.0 1842.7,976.1 1853.8,980.6 1865.0,984.5 1876.1,988.0 1887.3,991.4 1889.0,992.0" fill="none" stroke="#16168C" stroke-width="4.2" stroke-linecap="square" stroke-linejoin="round"/>
<circle cx="451.7" cy="836.7" r="2.9" fill="#16168C" stroke="#101080" stroke-width="1.1"/>
<text x="138.0" y="682.4" font-size="10.9" text-anchor="middle" font-weight="normal" textLength="23.3" lengthAdjust="spacingAndGlyphs"  fill="#A478C4" stroke="#A478C4" stroke-width="0.30">0,94</text>
<text x="138.0" y="695.2" font-size="10.9" text-anchor="middle" font-weight="normal" textLength="46.8" lengthAdjust="spacingAndGlyphs"  fill="#A478C4" stroke="#A478C4" stroke-width="0.30">9.10.2021</text>
<text x="306.0" y="560.4" font-size="10.9" text-anchor="middle" font-weight="normal" textLength="20.0" lengthAdjust="spacingAndGlyphs"  fill="#A478C4" stroke="#A478C4" stroke-width="0.30">1,48</text>
<text x="306.0" y="572.7" font-size="10.9" text-anchor="middle" font-weight="normal" textLength="53.6" lengthAdjust="spacingAndGlyphs"  fill="#A478C4" stroke="#A478C4" stroke-width="0.30">24.10.2021</text>
<text x="730.0" y="726.4" font-size="10.9" text-anchor="middle" font-weight="normal" textLength="23.3" lengthAdjust="spacingAndGlyphs"  fill="#A478C4" stroke="#A478C4" stroke-width="0.30">0,75</text>
<text x="730.0" y="738.7" font-size="10.9" text-anchor="middle" font-weight="normal" textLength="43.4" lengthAdjust="spacingAndGlyphs"  fill="#A478C4" stroke="#A478C4" stroke-width="0.30">1.12.2021</text>
<text x="963.0" y="697.4" font-size="10.9" text-anchor="middle" font-weight="normal" textLength="23.3" lengthAdjust="spacingAndGlyphs"  fill="#A478C4" stroke="#A478C4" stroke-width="0.30">0,88</text>
<text x="963.0" y="709.7" font-size="10.9" text-anchor="middle" font-weight="normal" textLength="53.6" lengthAdjust="spacingAndGlyphs"  fill="#A478C4" stroke="#A478C4" stroke-width="0.30">22.12.2021</text>
<text x="1009.0" y="667.4" font-size="10.9" text-anchor="middle" font-weight="normal" textLength="16.6" lengthAdjust="spacingAndGlyphs"  fill="#A478C4" stroke="#A478C4" stroke-width="0.30">1,01</text>
<text x="1009.0" y="679.7" font-size="10.9" text-anchor="middle" font-weight="normal" textLength="53.6" lengthAdjust="spacingAndGlyphs"  fill="#A478C4" stroke="#A478C4" stroke-width="0.30">26.12.2021</text>
<polyline points="50.0,695.0 61.7,692.3 95.0,692.3 128.0,701.0 140.0,701.7 151.7,701.3 161.7,699.3 173.0,693.0 184.0,685.0 195.7,679.3 206.7,657.7 217.0,654.7 228.0,644.0 239.0,631.7 250.7,614.0 262.0,598.0 273.0,587.0 284.0,589.0 295.7,580.0 307.0,578.7 318.0,590.0 329.0,596.0 340.0,602.0 351.0,610.0 362.0,611.0 373.0,619.0 384.0,617.0 395.7,630.0 406.7,638.0 418.0,635.0 429.7,645.7 440.7,653.0 451.7,658.0 462.7,665.0 473.0,668.7 485.0,674.0 506.7,683.0 530.0,692.0 552.0,701.7 563.0,704.0 586.7,711.7 600.0,716.2 630.0,726.2 652.5,732.5 675.0,738.7 697.0,742.5 719.5,744.2 730.0,744.5 741.2,744.2 763.7,742.5 775.0,742.5 786.2,740.5 797.5,736.2 808.0,736.2 819.5,735.2 830.0,738.2 842.0,738.2 852.5,736.5 863.7,734.2 875.0,734.2 886.2,732.5 897.5,726.2 908.7,722.5 920.0,717.5 931.2,717.2 942.5,716.5 953.7,716.5 965.0,715.5 976.2,709.5 987.5,701.2 997.5,691.2 1010.0,685.7 1021.2,670.0 1032.5,652.5 1043.7,630.0 1052.5,608.7 1063.7,596.0 1075.0,592.5 1087.5,587.5 1099.0,572.5 1110.0,550.0 1120.5,516.0 1131.0,505.5 1142.5,505.0 1165.0,522.5 1187.5,540.0 1210.0,560.0 1232.0,576.0 1254.5,592.5 1277.0,606.0 1299.0,620.0 1321.7,631.7 1344.0,641.0 1365.0,649.0 1376.7,654.0" fill="none" stroke="#60229C" stroke-width="1.15" stroke-linejoin="round"/>
<polyline points="1376.7,654.0 1387.8,659.4 1399.0,664.8 1410.1,670.0 1421.3,675.7 1432.4,684.2 1443.5,689.6 1454.7,694.4 1465.8,699.2 1477.0,704.3 1488.1,709.3 1499.2,714.1 1510.4,718.7 1521.5,723.0 1532.7,727.0 1543.8,730.6 1554.9,734.3 1566.1,738.0 1577.2,742.2 1588.4,746.9 1599.5,750.5 1610.6,752.6 1621.8,753.9 1632.9,754.8 1644.1,755.7 1655.2,756.2 1666.3,756.6 1677.5,757.1 1688.6,757.5 1699.8,758.0 1710.9,758.5 1722.0,758.9 1733.2,759.3 1744.3,759.7 1755.5,760.0 1766.6,760.3 1777.7,760.6 1788.9,760.8 1800.0,761.0 1811.2,761.1 1822.3,761.3 1833.4,761.4 1844.6,761.4 1855.7,761.5 1866.9,761.5 1878.0,761.5 1886.7,761.5" fill="none" stroke="#60229C" stroke-width="1.10" stroke-linejoin="round" stroke-dasharray="9 5"/>
<circle cx="140.0" cy="701.7" r="2.6" fill="none" stroke="#8A50B8" stroke-width="1"/>
<circle cx="307.0" cy="578.7" r="2.6" fill="none" stroke="#8A50B8" stroke-width="1"/>
<circle cx="730.0" cy="744.5" r="2.6" fill="none" stroke="#8A50B8" stroke-width="1"/>
<circle cx="965.0" cy="715.5" r="2.6" fill="none" stroke="#8A50B8" stroke-width="1"/>
<circle cx="1010.0" cy="685.7" r="2.6" fill="none" stroke="#8A50B8" stroke-width="1"/>
<circle cx="1131.0" cy="505.5" r="2.6" fill="none" stroke="#4B1090" stroke-width="1"/>
<circle cx="1376.7" cy="654.0" r="2.6" fill="none" stroke="#4B1090" stroke-width="1"/>
<polyline points="51.7,866.7 61.7,871.7 72.7,863.3 96.7,862.7 116.7,862.3 128.3,858.3 140.0,854.3 151.7,864.3 161.7,859.3 173.3,862.7 184.3,867.3 195.7,865.3 206.7,867.3 217.3,856.0 228.3,848.3 239.3,835.0 250.7,818.3 262.0,805.0 273.3,789.3 284.3,771.7 295.7,753.3 307.0,730.7 318.3,722.7 328.0,716.7 339.0,700.0 351.0,695.0 362.0,695.0 373.0,685.0 384.0,658.0 395.7,639.0 406.7,633.0 418.0,618.0 429.7,597.0 440.7,577.0 451.7,574.0 462.7,584.0 473.0,579.0 484.0,564.0 496.7,572.0 507.7,581.0 518.7,560.7 530.0,546.7 541.0,553.0 552.0,560.0 563.0,566.7 574.0,564.0 585.7,558.7 596.7,569.0 607.5,579.2 618.7,583.0 630.0,587.0 641.0,590.0 652.5,594.5 663.7,600.0 675.0,615.0 686.2,628.7 697.0,642.5 707.5,653.2 719.5,652.0 730.0,667.0 741.2,675.0 753.0,691.2 763.7,703.5 775.0,700.0 786.2,710.0 797.5,723.7 808.0,737.5 819.5,752.5 830.0,765.0 842.0,777.5 852.5,795.0 864.5,808.7 875.0,820.5 886.0,821.7 897.5,825.0 908.7,836.0 920.0,842.5 931.0,844.5 942.5,845.0 953.7,848.7 965.0,855.5 975.0,852.5 986.0,837.0 997.5,834.5 1008.7,837.5 1020.0,848.7 1031.0,862.5 1042.5,861.0 1052.5,857.5 1063.7,862.5 1075.0,858.7 1086.0,850.0 1097.5,838.7 1108.7,830.0 1120.0,823.7 1131.0,818.7 1142.5,817.0 1153.0,821.0 1165.0,819.0 1176.0,815.0 1187.5,807.5 1198.7,792.5 1210.0,798.7 1220.5,782.0 1232.0,784.0 1243.0,770.0 1254.5,755.0 1265.7,746.0 1277.0,740.0 1288.0,721.0 1299.0,701.0 1310.5,672.5 1321.7,656.0 1333.0,648.0 1344.0,623.7" fill="none" stroke="#B93030" stroke-width="1.10" stroke-linejoin="round"/>
<polyline points="1344.0,623.7 1360.0,605.0" fill="none" stroke="#B93030" stroke-width="1.10" stroke-linejoin="round" stroke-dasharray="10 5"/>
<polyline points="1388.3,566.4 1399.4,559.4 1410.6,541.3 1421.7,533.0 1432.9,523.9 1444.0,514.9 1455.1,505.5 1466.3,498.5 1477.4,498.1 1488.6,502.6 1499.7,511.4 1510.8,522.3 1522.0,532.7 1533.1,544.6 1544.3,559.8 1555.4,578.0 1566.5,597.9 1577.7,615.8 1588.8,631.9 1600.0,650.6 1611.1,671.6 1622.2,694.3 1633.4,718.7 1644.5,742.7 1655.7,763.1 1666.8,783.4 1677.9,802.8 1689.1,821.4 1700.2,839.0 1711.4,854.6 1722.5,868.3 1733.6,880.8 1744.8,892.7 1755.9,903.7 1767.1,914.4 1778.2,924.9 1789.3,934.9 1800.5,943.5 1811.6,950.9 1822.8,957.6 1833.9,963.7 1845.0,969.2 1856.2,974.2 1867.3,978.7 1878.5,982.8 1889.0,986.7" fill="none" stroke="#B93030" stroke-width="1.10" stroke-linejoin="round" stroke-dasharray="12 6"/>
<circle cx="530.0" cy="546.7" r="2.6" fill="none" stroke="#B42424" stroke-width="1"/>
<circle cx="1467.0" cy="498.3" r="2.6" fill="none" stroke="#B42424" stroke-width="1"/>
<polyline points="52.7,874.8 73.7,873.5 84.3,874.8 96.0,884.8 107.0,880.2 117.7,879.8 129.3,876.5 141.0,877.5 162.7,874.2 174.3,878.2 185.3,881.5 196.7,884.2 207.7,884.8 218.3,880.8 229.3,878.2 240.3,877.2 251.7,875.2 263.0,876.8 274.3,870.2 285.3,864.2 296.7,856.5 308.0,849.2 319.3,843.2 330.3,836.5 341.0,829.8 352.3,826.2 363.3,825.2 374.3,821.5 385.3,809.8 396.7,798.8 407.7,784.8 419.3,760.8 430.7,751.5 441.7,755.5 452.7,736.5 463.7,721.5 474.0,711.5 485.0,704.5 497.7,693.2 508.7,679.5 519.7,669.2 531.0,665.5 542.0,658.2 553.0,634.5 564.0,627.5 575.0,623.2 586.7,615.5 597.7,623.2 608.5,616.0 619.7,602.2 631.0,605.2 643.0,600.2 653.5,609.0 664.7,612.0 676.0,617.7 687.2,610.7 698.0,604.5 708.5,615.2 720.5,622.7 731.0,630.2 742.2,640.2 754.0,651.0 764.7,649.5 776.0,644.7 787.2,661.5 798.5,676.5 809.0,680.2 820.5,694.0 831.0,696.0 843.0,705.2 853.5,709.0 865.5,729.5 876.0,734.5 887.0,745.2 898.5,756.5 909.7,772.5 921.0,773.5 932.0,775.2 943.5,785.2 954.7,792.0 966.0,801.5 976.0,804.5 987.0,818.2 998.5,818.2 1009.7,813.2 1021.0,816.5 1032.0,821.5 1043.5,820.2 1053.5,827.5 1064.7,834.5 1076.0,834.0 1087.0,830.2 1098.5,835.5 1109.7,831.5 1121.0,829.5 1132.0,830.2 1143.5,832.5 1154.0,833.5 1166.0,822.5 1177.0,830.2 1188.5,835.2 1199.7,838.5 1211.0,839.5 1221.5,842.2 1233.0,830.2 1244.0,824.0 1255.5,820.2 1266.7,823.2 1278.0,817.5 1289.0,811.5 1300.0,810.2 1311.5,807.5 1322.7,797.5 1334.0,790.2 1345.0,781.5 1356.0,771.5 1367.0,766.5 1378.5,765.2 1389.6,755.9 1400.8,744.7 1411.9,733.7 1423.1,724.5 1434.2,716.0 1445.3,707.9 1456.5,700.2 1467.6,693.1 1478.8,687.1 1489.9,682.3 1501.0,679.1 1512.2,676.9 1523.3,676.2 1534.5,677.2 1545.6,680.5 1556.7,685.5 1567.9,691.7 1579.0,699.3 1590.2,708.1 1601.3,718.3 1612.4,729.6 1623.6,741.1 1634.7,752.9 1645.9,766.5 1657.0,780.5 1668.1,793.3 1679.3,805.5 1690.4,817.9 1701.6,831.2 1712.7,844.3 1723.8,856.2 1735.0,867.8 1746.1,880.1 1757.3,892.7 1768.4,904.4 1779.5,914.9 1790.7,924.6 1801.8,933.8 1813.0,942.3 1824.1,950.2 1835.2,957.6 1846.4,964.3 1857.5,970.1 1868.7,975.1 1879.8,979.6 1890.0,983.7" fill="none" stroke="#cdd2d2" stroke-width="4.4" stroke-linejoin="round" stroke-linecap="butt"/>
<polyline points="51.7,873.3 72.7,872.0 83.3,873.3 95.0,883.3 106.0,878.7 116.7,878.3 128.3,875.0 140.0,876.0 161.7,872.7 173.3,876.7 184.3,880.0 195.7,882.7 206.7,883.3 217.3,879.3 228.3,876.7 239.3,875.7 250.7,873.7 262.0,875.3 273.3,868.7 284.3,862.7 295.7,855.0 307.0,847.7 318.3,841.7 329.3,835.0 340.0,828.3 351.3,824.7 362.3,823.7 373.3,820.0 384.3,808.3 395.7,797.3 406.7,783.3 418.3,759.3 429.7,750.0 440.7,754.0 451.7,735.0 462.7,720.0 473.0,710.0 484.0,703.0 496.7,691.7 507.7,678.0 518.7,667.7 530.0,664.0 541.0,656.7 552.0,633.0 563.0,626.0 574.0,621.7 585.7,614.0 596.7,621.7 607.5,614.5 618.7,600.7 630.0,603.7 642.0,598.7 652.5,607.5 663.7,610.5 675.0,616.2 686.2,609.2 697.0,603.0 707.5,613.7 719.5,621.2 730.0,628.7 741.2,638.7 753.0,649.5 763.7,648.0 775.0,643.2 786.2,660.0 797.5,675.0 808.0,678.7 819.5,692.5 830.0,694.5 842.0,703.7 852.5,707.5 864.5,728.0 875.0,733.0 886.0,743.7 897.5,755.0 908.7,771.0 920.0,772.0 931.0,773.7 942.5,783.7 953.7,790.5 965.0,800.0 975.0,803.0 986.0,816.7 997.5,816.7 1008.7,811.7 1020.0,815.0 1031.0,820.0 1042.5,818.7 1052.5,826.0 1063.7,833.0 1075.0,832.5 1086.0,828.7 1097.5,834.0 1108.7,830.0 1120.0,828.0 1131.0,828.7 1142.5,831.0 1153.0,832.0 1165.0,821.0 1176.0,828.7 1187.5,833.7 1198.7,837.0 1210.0,838.0 1220.5,840.7 1232.0,828.7 1243.0,822.5 1254.5,818.7 1265.7,821.7 1277.0,816.0 1288.0,810.0 1299.0,808.7 1310.5,806.0 1321.7,796.0 1333.0,788.7 1344.0,780.0 1355.0,770.0 1366.0,765.0 1377.5,763.7 1388.6,754.4 1399.8,743.2 1410.9,732.2 1422.1,723.0 1433.2,714.5 1444.3,706.4 1455.5,698.7 1466.6,691.6 1477.8,685.6 1488.9,680.8 1500.0,677.6 1511.2,675.4 1522.3,674.7 1533.5,675.7 1544.6,679.0 1555.7,684.0 1566.9,690.2 1578.0,697.8 1589.2,706.6 1600.3,716.8 1611.4,728.1 1622.6,739.6 1633.7,751.4 1644.9,765.0 1656.0,779.0 1667.1,791.8 1678.3,804.0 1689.4,816.4 1700.6,829.7 1711.7,842.8 1722.8,854.7 1734.0,866.3 1745.1,878.6 1756.3,891.2 1767.4,902.9 1778.5,913.4 1789.7,923.1 1800.8,932.3 1812.0,940.8 1823.1,948.7 1834.2,956.1 1845.4,962.8 1856.5,968.6 1867.7,973.6 1878.8,978.1 1889.0,982.2" fill="none" stroke="#19D0D4" stroke-width="4.4" stroke-linejoin="round" stroke-linecap="butt"/>
<path d="M72.7,869.5l-0.0,5.0M84.4,871.1l-2.3,4.5M95.6,880.9l-1.2,4.9M105.4,876.3l1.1,4.9M116.3,875.8l0.8,4.9M128.1,872.5l0.5,5.0M139.8,873.5l0.3,5.0M161.8,870.2l-0.1,5.0M174.1,874.3l-1.5,4.8M184.9,877.6l-1.3,4.8M196.1,880.2l-0.7,4.9M206.3,880.8l0.8,4.9M216.6,876.9l1.5,4.8M227.9,874.2l0.8,4.9M239.0,873.2l0.7,5.0M250.7,871.2l0.1,5.0M261.5,872.9l1.1,4.9M272.1,866.5l2.5,4.4M283.0,860.6l2.6,4.3M294.3,852.9l2.8,4.2M305.7,845.5l2.5,4.3M317.1,839.5l2.5,4.3M328.0,832.9l2.6,4.3M338.9,826.0l2.1,4.5M350.8,822.3l1.0,4.9M361.8,821.3l1.0,4.9M371.9,818.0l2.9,4.1M382.5,806.5l3.6,3.5M393.8,795.6l3.7,3.3M404.6,782.0l4.3,2.6M416.2,757.9l4.1,2.8M429.1,747.6l1.2,4.9M439.3,751.9l2.8,4.1M449.6,733.6l4.2,2.7M460.8,718.4l3.8,3.2M471.4,708.0l3.1,3.9M482.5,701.0l3.1,4.0M494.9,690.0l3.6,3.4M505.9,676.3l3.7,3.4M517.4,665.6l2.7,4.2M528.9,661.8l2.2,4.5M539.0,655.3l4.1,2.9M550.0,631.5l4.1,2.9M561.9,623.8l2.3,4.4M572.8,619.5l2.3,4.4M585.7,611.5l-0.0,5.0M596.8,619.2l-0.1,5.0M605.8,612.7l3.5,3.6M617.6,598.4l2.2,4.5M629.8,601.2l0.4,5.0M642.4,596.2l-0.8,4.9M653.7,605.3l-2.4,4.4M664.6,608.2l-1.8,4.7M674.9,613.7l0.3,5.0M684.9,607.1l2.6,4.3M697.5,600.6l-1.0,4.9M709.1,611.8l-3.1,3.9M720.9,619.1l-2.8,4.2M731.6,626.8l-3.1,3.9M742.9,636.8l-3.4,3.7M754.0,647.2l-1.9,4.6M763.0,645.6l1.4,4.8M776.2,641.0l-2.4,4.4M788.2,658.6l-4.1,2.9M799.1,673.1l-3.3,3.8M809.6,676.7l-3.1,3.9M821.0,690.5l-2.9,4.1M831.1,692.3l-2.2,4.5M843.3,701.5l-2.5,4.3M854.3,705.8l-3.7,3.4M866.4,726.3l-3.7,3.3M876.5,731.0l-2.9,4.0M887.7,741.9l-3.5,3.6M899.4,753.4l-3.8,3.2M910.2,769.0l-3.0,4.0M920.3,769.5l-0.6,5.0M932.2,771.5l-2.3,4.4M944.0,781.7l-3.0,4.0M955.2,788.5l-2.9,4.0M966.3,797.8l-2.5,4.3M976.6,801.0l-3.1,3.9M987.3,814.6l-2.6,4.3M997.0,814.3l1.1,4.9M1008.5,809.2l0.4,5.0M1020.9,812.7l-1.7,4.7M1031.4,817.5l-0.8,4.9M1043.2,816.3l-1.3,4.8M1053.9,823.9l-2.8,4.1M1064.4,830.6l-1.4,4.8M1074.5,830.0l0.9,4.9M1086.2,826.2l-0.3,5.0M1097.6,831.5l-0.3,5.0M1108.1,827.6l1.3,4.8M1119.9,825.5l0.3,5.0M1131.3,826.2l-0.7,5.0M1142.9,828.5l-0.7,4.9M1152.0,829.7l2.0,4.6M1164.6,818.5l0.7,4.9M1177.2,826.5l-2.5,4.4M1188.4,831.4l-1.7,4.7M1199.2,834.5l-0.9,4.9M1210.4,835.5l-0.8,4.9M1219.5,838.4l1.9,4.6M1230.4,826.8l3.1,3.9M1242.0,820.2l2.0,4.6M1254.4,816.2l0.2,5.0M1265.4,819.2l0.6,5.0M1275.8,813.8l2.3,4.4M1287.2,807.6l1.6,4.7M1298.6,806.2l0.9,4.9M1309.3,803.8l2.4,4.4M1320.2,794.0l3.0,4.0M1331.5,786.7l2.9,4.1M1342.4,778.1l3.2,3.8M1353.6,767.9l2.8,4.1M1365.3,762.6l1.3,4.8M1376.4,761.4l2.1,4.5M1386.9,752.6l3.4,3.7M1398.0,741.4l3.5,3.5M1409.2,730.3l3.4,3.7M1420.5,721.1l3.1,3.9M1431.7,712.5l3.0,4.0M1442.9,704.4l2.9,4.1M1454.1,696.6l2.8,4.2M1465.4,689.5l2.5,4.3M1476.7,683.3l2.2,4.5M1488.1,678.4l1.7,4.7M1499.5,675.2l1.2,4.9M1510.9,672.9l0.6,5.0M1522.4,672.2l-0.1,5.0M1533.9,673.2l-0.9,4.9M1545.5,676.7l-1.8,4.7M1556.9,681.8l-2.2,4.5M1568.2,688.1l-2.6,4.3M1579.5,695.7l-3.0,4.0M1590.8,704.7l-3.3,3.8M1602.0,715.0l-3.5,3.6M1613.2,726.4l-3.6,3.5M1624.4,737.8l-3.6,3.5M1635.6,749.7l-3.8,3.3M1646.8,763.4l-3.9,3.1M1657.9,777.4l-3.8,3.2M1669.0,790.1l-3.7,3.3M1680.1,802.3l-3.7,3.4M1691.3,814.8l-3.8,3.3M1702.5,828.1l-3.8,3.2M1713.6,841.1l-3.7,3.3M1724.7,852.9l-3.6,3.4M1735.8,864.6l-3.7,3.4M1747.0,877.0l-3.7,3.3M1758.1,889.5l-3.7,3.4M1769.2,901.1l-3.5,3.5M1780.2,911.5l-3.4,3.7M1791.3,921.2l-3.2,3.8M1802.4,930.3l-3.1,3.9M1813.4,938.8l-3.0,4.0M1824.5,946.7l-2.8,4.1M1835.6,953.9l-2.7,4.2M1846.6,960.6l-2.5,4.4M1857.6,966.4l-2.2,4.5M1868.6,971.3l-1.9,4.6M1879.7,975.7l-1.9,4.6" fill="none" stroke="#ffffff" stroke-opacity="0.38" stroke-width="0.8"/>
<polyline points="52.7,945.5 62.7,943.2 73.7,942.8 84.3,943.8 96.0,949.8 107.0,949.8 117.7,949.2 129.3,947.2 141.0,945.2 152.7,944.2 162.7,947.5 174.3,942.8 185.3,946.5 196.7,946.8 207.7,945.8 218.3,943.2 229.3,944.8 240.3,943.5 251.7,943.5 263.0,944.2 274.3,943.2 285.3,945.5 296.7,940.5 308.0,940.2 319.3,937.5 330.3,935.5 341.0,936.8 352.3,935.5 363.3,935.5 374.3,932.2 385.3,926.5 396.7,917.5 407.7,915.5 419.3,908.2 430.7,903.2 441.7,903.8 452.7,901.5 463.7,895.8 474.3,895.5 486.0,895.5 497.7,880.8 508.7,878.2 519.7,870.8 531.0,870.5 542.0,866.8 553.3,864.8 564.3,853.8 575.3,847.5 586.7,847.5 597.7,846.2 608.5,839.5 619.7,829.0 631.0,824.5 642.0,827.5 653.5,821.5 664.7,821.5 676.0,825.5 687.0,824.0 698.5,827.5 708.5,830.2 720.5,831.0 731.0,831.5 742.0,835.2 754.0,842.5 764.7,834.0 776.0,837.5 787.0,837.0 798.5,842.5 809.0,849.0 820.5,855.2 831.0,852.2 843.0,855.2 853.5,857.5 865.5,860.5 876.0,862.5 887.0,861.0 898.5,860.2 909.7,870.2 921.0,875.2 932.0,874.5 943.5,881.0 954.7,882.0 966.0,885.2 987.0,885.2 998.5,887.5 1009.7,887.5 1021.0,887.0 1032.0,892.5 1043.5,895.2 1053.5,901.5 1064.7,906.5 1076.0,906.5 1087.0,907.0 1098.5,912.5 1109.7,916.5 1121.0,915.5 1132.0,917.5 1143.5,917.5 1154.0,915.5 1166.0,917.2 1177.0,915.5 1188.5,919.5 1199.7,920.5 1211.0,920.2 1221.5,919.5 1233.0,918.2 1244.0,918.2 1255.5,919.5 1266.7,920.5 1278.0,925.2 1289.0,929.5 1300.0,933.5 1311.5,934.0 1322.7,934.0 1334.0,937.2 1345.0,939.5 1356.0,939.5 1367.0,937.0 1378.5,940.5 1389.6,935.2 1400.8,930.9 1411.9,926.3 1423.1,921.2 1434.2,915.2 1445.3,909.2 1456.5,903.9 1467.6,899.0 1478.8,894.7 1489.9,891.0 1501.0,888.1 1512.2,885.8 1523.3,884.0 1534.5,882.6 1545.6,881.8 1556.7,881.7 1567.9,882.1 1579.0,883.7 1590.2,885.9 1601.3,888.3 1612.4,891.4 1623.6,895.6 1634.7,900.3 1645.9,905.7 1657.0,911.3 1668.1,916.5 1679.3,921.4 1690.4,926.6 1701.6,932.1 1712.7,937.7 1723.8,943.3 1735.0,948.7 1746.1,953.9 1757.3,959.0 1768.4,964.0 1779.5,969.1 1790.7,974.1 1801.8,978.7 1813.0,983.0 1824.1,987.0 1835.2,990.9 1846.4,994.5 1857.5,997.8 1868.7,1000.7 1879.8,1003.4 1890.0,1005.9" fill="none" stroke="#cdd2d2" stroke-width="4.2" stroke-linejoin="round" stroke-linecap="butt"/>
<polyline points="51.7,944.0 61.7,941.7 72.7,941.3 83.3,942.3 95.0,948.3 106.0,948.3 116.7,947.7 128.3,945.7 140.0,943.7 151.7,942.7 161.7,946.0 173.3,941.3 184.3,945.0 195.7,945.3 206.7,944.3 217.3,941.7 228.3,943.3 239.3,942.0 250.7,942.0 262.0,942.7 273.3,941.7 284.3,944.0 295.7,939.0 307.0,938.7 318.3,936.0 329.3,934.0 340.0,935.3 351.3,934.0 362.3,934.0 373.3,930.7 384.3,925.0 395.7,916.0 406.7,914.0 418.3,906.7 429.7,901.7 440.7,902.3 451.7,900.0 462.7,894.3 473.3,894.0 485.0,894.0 496.7,879.3 507.7,876.7 518.7,869.3 530.0,869.0 541.0,865.3 552.3,863.3 563.3,852.3 574.3,846.0 585.7,846.0 596.7,844.7 607.5,838.0 618.7,827.5 630.0,823.0 641.0,826.0 652.5,820.0 663.7,820.0 675.0,824.0 686.0,822.5 697.5,826.0 707.5,828.7 719.5,829.5 730.0,830.0 741.0,833.7 753.0,841.0 763.7,832.5 775.0,836.0 786.0,835.5 797.5,841.0 808.0,847.5 819.5,853.7 830.0,850.7 842.0,853.7 852.5,856.0 864.5,859.0 875.0,861.0 886.0,859.5 897.5,858.7 908.7,868.7 920.0,873.7 931.0,873.0 942.5,879.5 953.7,880.5 965.0,883.7 986.0,883.7 997.5,886.0 1008.7,886.0 1020.0,885.5 1031.0,891.0 1042.5,893.7 1052.5,900.0 1063.7,905.0 1075.0,905.0 1086.0,905.5 1097.5,911.0 1108.7,915.0 1120.0,914.0 1131.0,916.0 1142.5,916.0 1153.0,914.0 1165.0,915.7 1176.0,914.0 1187.5,918.0 1198.7,919.0 1210.0,918.7 1220.5,918.0 1232.0,916.7 1243.0,916.7 1254.5,918.0 1265.7,919.0 1277.0,923.7 1288.0,928.0 1299.0,932.0 1310.5,932.5 1321.7,932.5 1333.0,935.7 1344.0,938.0 1355.0,938.0 1366.0,935.5 1377.5,939.0 1388.6,933.7 1399.8,929.4 1410.9,924.8 1422.1,919.7 1433.2,913.7 1444.3,907.7 1455.5,902.4 1466.6,897.5 1477.8,893.2 1488.9,889.5 1500.0,886.6 1511.2,884.3 1522.3,882.5 1533.5,881.1 1544.6,880.3 1555.7,880.2 1566.9,880.6 1578.0,882.2 1589.2,884.4 1600.3,886.8 1611.4,889.9 1622.6,894.1 1633.7,898.8 1644.9,904.2 1656.0,909.8 1667.1,915.0 1678.3,919.9 1689.4,925.1 1700.6,930.6 1711.7,936.2 1722.8,941.8 1734.0,947.2 1745.1,952.4 1756.3,957.5 1767.4,962.5 1778.5,967.6 1789.7,972.6 1800.8,977.2 1812.0,981.5 1823.1,985.5 1834.2,989.4 1845.4,993.0 1856.5,996.3 1867.7,999.2 1878.8,1001.9 1889.0,1004.4" fill="none" stroke="#FF1616" stroke-width="4.2" stroke-linejoin="round" stroke-linecap="butt"/>
<path d="M61.4,939.3l0.6,4.8M72.8,938.9l-0.1,4.8M84.0,940.0l-1.4,4.6M95.6,946.0l-1.2,4.6M105.9,945.9l0.1,4.8M116.4,945.3l0.6,4.8M127.9,943.3l0.8,4.7M139.7,941.3l0.6,4.8M152.0,940.3l-0.5,4.8M161.5,943.6l0.3,4.8M173.2,938.9l0.2,4.8M184.7,942.6l-0.8,4.7M195.6,942.9l0.1,4.8M206.3,941.9l0.8,4.7M217.2,939.3l0.2,4.8M228.3,940.9l-0.1,4.8M239.2,939.6l0.3,4.8M250.8,939.6l-0.1,4.8M262.0,940.3l0.1,4.8M273.4,939.3l-0.3,4.8M284.0,941.6l0.6,4.8M295.2,936.7l1.1,4.7M306.7,936.3l0.6,4.8M317.8,933.7l1.0,4.7M329.2,931.6l0.2,4.8M340.0,932.9l0.0,4.8M351.2,931.6l0.3,4.8M361.9,931.6l0.7,4.7M372.4,928.5l1.8,4.4M383.0,923.0l2.6,4.0M394.6,913.8l2.1,4.3M405.8,911.8l1.8,4.4M417.2,904.6l2.3,4.2M429.2,899.3l0.9,4.7M440.5,899.9l0.4,4.8M450.9,897.7l1.6,4.5M462.1,892.0l1.3,4.6M473.3,891.6l0.1,4.8M483.7,892.0l2.6,4.1M495.2,877.4l2.9,3.8M506.7,874.5l2.0,4.4M517.9,867.0l1.6,4.5M529.6,866.6l0.8,4.7M540.4,863.0l1.2,4.7M551.1,861.2l2.4,4.1M561.8,850.4l3.0,3.8M573.7,843.7l1.3,4.6M585.6,843.6l0.3,4.8M595.9,842.4l1.7,4.5M606.0,836.1l3.0,3.8M617.4,825.5l2.7,4.0M629.8,820.6l0.3,4.8M640.7,823.6l0.6,4.8M651.9,817.7l1.2,4.6M664.1,817.6l-0.8,4.7M675.3,821.6l-0.5,4.8M686.2,820.1l-0.4,4.8M698.2,823.7l-1.3,4.6M707.9,826.3l-0.8,4.7M719.6,827.1l-0.3,4.8M730.5,827.6l-0.9,4.7M742.0,831.5l-2.1,4.3M752.9,838.6l0.3,4.8M763.2,830.2l1.1,4.7M775.3,833.6l-0.6,4.8M786.5,833.2l-1.0,4.7M798.6,838.9l-2.3,4.2M809.2,845.4l-2.4,4.2M819.8,851.3l-0.7,4.8M830.0,848.3l-0.0,4.8M842.6,851.4l-1.1,4.7M853.1,853.7l-1.1,4.7M865.0,856.7l-1.0,4.7M875.1,858.6l-0.1,4.8M885.8,857.1l0.5,4.8M898.4,856.5l-1.8,4.4M910.0,866.7l-2.7,4.0M920.5,871.3l-0.9,4.7M931.6,870.7l-1.2,4.6M943.3,877.2l-1.5,4.6M954.1,878.1l-0.9,4.7M965.2,881.3l-0.5,4.8M986.2,881.3l-0.3,4.8M997.7,883.6l-0.5,4.8M1008.6,883.6l0.1,4.8M1020.5,883.2l-1.1,4.7M1031.8,888.7l-1.6,4.5M1043.4,891.5l-1.9,4.4M1053.6,897.9l-2.3,4.2M1064.2,902.7l-1.0,4.7M1075.1,902.6l-0.1,4.8M1086.6,903.2l-1.2,4.6M1098.4,908.8l-1.9,4.4M1109.0,912.6l-0.6,4.8M1120.1,911.6l-0.2,4.8M1131.2,913.6l-0.4,4.8M1142.3,913.6l0.4,4.8M1153.0,911.6l0.1,4.8M1165.0,913.3l0.0,4.8M1176.2,911.6l-0.5,4.8M1188.0,915.7l-1.0,4.7M1198.8,916.6l-0.1,4.8M1209.9,916.3l0.2,4.8M1220.3,915.6l0.4,4.8M1231.9,914.3l0.3,4.8M1243.1,914.3l-0.3,4.8M1254.7,915.6l-0.5,4.8M1266.3,916.7l-1.2,4.7M1277.9,921.5l-1.8,4.5M1288.8,925.8l-1.7,4.5M1299.5,929.6l-0.9,4.7M1310.6,930.1l-0.1,4.8M1322.0,930.1l-0.7,4.8M1333.6,933.4l-1.1,4.7M1344.2,935.6l-0.5,4.8M1354.7,935.6l0.5,4.8M1366.1,933.1l-0.2,4.8M1377.3,936.6l0.4,4.8M1387.7,931.5l1.9,4.4M1398.9,927.2l1.8,4.5M1410.0,922.6l1.9,4.4M1421.0,917.6l2.1,4.3M1432.1,911.6l2.3,4.2M1443.3,905.5l2.2,4.3M1454.5,900.2l2.0,4.4M1465.7,895.3l1.8,4.4M1476.9,891.0l1.6,4.5M1488.2,887.2l1.4,4.6M1499.5,884.3l1.1,4.7M1510.7,881.9l0.9,4.7M1522.0,880.1l0.7,4.8M1533.2,878.7l0.5,4.8M1544.5,877.9l0.2,4.8M1555.8,877.8l-0.1,4.8M1567.1,878.2l-0.4,4.8M1578.4,879.9l-0.8,4.7M1589.6,882.1l-1.0,4.7M1600.9,884.5l-1.2,4.7M1612.2,887.7l-1.5,4.6M1623.5,891.8l-1.8,4.5M1634.7,896.6l-2.0,4.4M1645.9,902.0l-2.1,4.3M1657.0,907.6l-2.1,4.3M1668.1,912.8l-2.0,4.4M1679.3,917.8l-2.0,4.4M1690.5,922.9l-2.1,4.3M1701.6,928.4l-2.1,4.3M1712.8,934.1l-2.2,4.3M1723.9,939.6l-2.1,4.3M1735.0,945.1l-2.1,4.3M1746.1,950.2l-2.0,4.4M1757.2,955.3l-2.0,4.4M1768.4,960.3l-2.0,4.4M1779.5,965.4l-2.0,4.4M1790.6,970.4l-1.9,4.4M1801.7,975.0l-1.8,4.5M1812.8,979.3l-1.7,4.5M1823.9,983.3l-1.6,4.5M1835.0,987.1l-1.5,4.6M1846.1,990.7l-1.4,4.6M1857.2,994.0l-1.3,4.6M1868.2,996.9l-1.2,4.7M1879.4,999.6l-1.1,4.7" fill="none" stroke="#ffffff" stroke-opacity="0.38" stroke-width="0.8"/>
<polyline points="51.7,958.0 61.7,950.0 72.7,952.0 83.3,956.0 95.0,953.0 106.0,952.0 116.7,959.0 128.3,973.0 140.0,979.0 151.7,977.0 161.7,974.0 173.3,976.0 184.3,981.0 195.7,983.0 206.7,978.0 217.3,969.0 228.3,962.0 239.3,954.0 250.7,945.0 262.0,938.0 273.3,923.0 284.3,910.0 295.7,910.0 307.0,904.0 318.3,905.0 329.3,904.0 340.0,903.0 351.3,903.0 362.3,903.0 373.3,885.0 384.3,886.0 395.7,873.0 406.7,860.0 418.3,855.0 429.7,851.0 440.7,846.0 451.7,841.0 462.7,840.0 473.3,838.0 485.0,826.0 496.7,800.0 507.7,801.0 518.7,816.0 530.0,819.0 541.0,792.0 552.3,776.0 563.3,775.0 574.3,778.0 585.7,768.0 596.7,729.0 607.5,748.0 618.7,780.0 630.0,788.0 641.0,787.5 652.5,777.0 663.7,776.0 675.0,788.0 686.0,775.0 697.5,762.0 707.5,762.0 719.5,772.0 730.0,790.0 741.0,800.0 753.0,797.5 763.7,792.0 775.0,802.0 786.0,798.0 797.5,814.0 808.0,810.0 819.5,808.0 830.0,822.0 842.0,843.0 852.5,849.0 864.5,863.0 875.0,845.0 886.0,850.0 897.5,861.0 908.7,872.0 920.0,877.0 931.0,874.0 942.5,895.0 953.7,924.0 965.0,935.0 975.0,938.0 986.0,924.0 997.5,913.0 1008.7,921.0 1020.0,912.0 1031.0,908.0 1042.5,915.0 1052.5,908.7 1063.7,918.7 1075.0,927.5 1086.0,931.0 1097.5,925.5 1108.7,928.7 1120.0,925.0 1131.0,933.0 1142.5,943.0 1153.0,931.0 1165.0,929.0 1176.0,934.0 1187.5,938.0 1198.7,943.0 1210.0,943.0 1220.5,931.0 1232.0,941.0 1243.0,939.0 1254.5,926.0 1265.7,922.0 1277.0,886.0 1288.0,873.0 1299.0,874.0 1310.5,863.7 1321.7,853.0 1333.0,858.7 1344.0,857.0 1355.0,859.0" fill="none" stroke="#c4c4c4" stroke-width="1.00" stroke-linejoin="round"/>
<polyline points="52.7,956.5 62.7,948.2 73.7,950.5 84.3,954.8 96.0,951.5 107.0,950.2 117.7,957.5 129.3,971.5 141.0,977.5 152.7,975.5 162.7,972.2 174.3,974.2 185.3,979.8 196.7,981.5 207.7,976.5 218.3,967.5 229.3,960.8 240.3,952.2 251.7,943.2 263.0,936.5 274.3,921.5 285.3,908.8 296.7,908.2 308.0,902.5 319.3,903.8 330.3,902.2 341.0,901.8 352.3,901.5 363.3,901.8 374.3,883.2 385.3,884.8 396.7,871.5 407.7,858.8 419.3,853.2 430.7,849.2 441.7,844.2 452.7,839.8 463.7,838.2 474.3,836.5 486.0,824.8 497.7,798.2 508.7,799.8 519.7,814.8 531.0,817.2 542.0,788.2 553.3,772.2 564.3,770.5 575.3,774.2 586.7,764.2 597.7,727.2 608.5,742.5 619.7,769.0 631.0,778.5 642.0,777.0 653.5,767.5 664.7,766.0 676.0,776.0 687.0,765.2 698.5,756.5 708.5,756.5 720.5,767.5 731.0,788.5 742.0,792.5 754.0,796.0 764.7,790.5 776.0,799.5 787.0,796.0 798.5,812.2 809.0,808.0 820.5,808.0 831.0,821.5 843.0,842.5 853.5,849.0 865.5,862.5 876.0,844.0 887.0,849.0 898.5,860.2 909.7,871.5 921.0,876.0 932.0,872.5 943.5,894.0 954.7,922.5 966.0,933.5 976.0,935.2 987.0,921.5 998.5,910.2 1009.7,916.0 1021.0,906.5 1032.0,902.2 1043.5,906.0 1053.5,901.5 1064.7,910.2 1076.0,920.5 1087.0,922.5 1098.5,916.5 1109.7,920.2 1121.0,922.5 1132.0,931.5 1143.5,942.2 1154.0,929.5 1166.0,927.5 1177.0,933.2 1188.5,936.5 1199.7,942.5 1211.0,942.5 1221.5,930.2 1233.0,940.5 1244.0,938.5 1255.5,923.5 1266.7,916.0 1278.0,874.0 1289.0,860.5 1300.0,858.5 1311.5,846.0 1322.7,832.2 1334.0,838.2 1345.0,836.5 1356.0,838.2" fill="none" stroke="#cdd2d2" stroke-width="4.5" stroke-linejoin="round" stroke-linecap="butt"/>
<polyline points="51.7,955.0 61.7,946.7 72.7,949.0 83.3,953.3 95.0,950.0 106.0,948.7 116.7,956.0 128.3,970.0 140.0,976.0 151.7,974.0 161.7,970.7 173.3,972.7 184.3,978.3 195.7,980.0 206.7,975.0 217.3,966.0 228.3,959.3 239.3,950.7 250.7,941.7 262.0,935.0 273.3,920.0 284.3,907.3 295.7,906.7 307.0,901.0 318.3,902.3 329.3,900.7 340.0,900.3 351.3,900.0 362.3,900.3 373.3,881.7 384.3,883.3 395.7,870.0 406.7,857.3 418.3,851.7 429.7,847.7 440.7,842.7 451.7,838.3 462.7,836.7 473.3,835.0 485.0,823.3 496.7,796.7 507.7,798.3 518.7,813.3 530.0,815.7 541.0,786.7 552.3,770.7 563.3,769.0 574.3,772.7 585.7,762.7 596.7,725.7 607.5,741.0 618.7,767.5 630.0,777.0 641.0,775.5 652.5,766.0 663.7,764.5 675.0,774.5 686.0,763.7 697.5,755.0 707.5,755.0 719.5,766.0 730.0,787.0 741.0,791.0 753.0,794.5 763.7,789.0 775.0,798.0 786.0,794.5 797.5,810.7 808.0,806.5 819.5,806.5 830.0,820.0 842.0,841.0 852.5,847.5 864.5,861.0 875.0,842.5 886.0,847.5 897.5,858.7 908.7,870.0 920.0,874.5 931.0,871.0 942.5,892.5 953.7,921.0 965.0,932.0 975.0,933.7 986.0,920.0 997.5,908.7 1008.7,914.5 1020.0,905.0 1031.0,900.7 1042.5,904.5 1052.5,900.0 1063.7,908.7 1075.0,919.0 1086.0,921.0 1097.5,915.0 1108.7,918.7 1120.0,921.0 1131.0,930.0 1142.5,940.7 1153.0,928.0 1165.0,926.0 1176.0,931.7 1187.5,935.0 1198.7,941.0 1210.0,941.0 1220.5,928.7 1232.0,939.0 1243.0,937.0 1254.5,922.0 1265.7,914.5 1277.0,872.5 1288.0,859.0 1299.0,857.0 1310.5,844.5 1321.7,830.7 1333.0,836.7 1344.0,835.0 1355.0,836.7" fill="none" stroke="#767676" stroke-width="4.5" stroke-linejoin="round" stroke-linecap="butt"/>
<path d="M61.0,944.2l1.4,4.9M73.4,946.6l-1.5,4.9M83.4,950.8l-0.2,5.1M94.5,947.5l1.0,5.0M106.7,946.2l-1.4,4.9M118.5,954.2l-3.5,3.7M130.0,968.1l-3.3,3.9M140.4,973.5l-0.9,5.0M151.1,971.5l1.2,5.0M161.5,968.2l0.3,5.1M174.1,970.3l-1.6,4.8M185.1,975.9l-1.6,4.8M195.3,977.5l0.7,5.0M205.3,972.9l2.8,4.3M215.8,963.9l3.0,4.1M226.8,957.2l2.9,4.2M237.7,948.7l3.2,4.0M249.2,939.6l2.9,4.2M260.2,933.2l3.5,3.7M271.3,918.4l4.0,3.2M283.0,905.1l2.6,4.4M295.0,904.2l1.4,4.9M306.5,898.5l1.0,5.0M318.3,899.8l0.1,5.1M329.1,898.2l0.5,5.1M339.9,897.8l0.2,5.1M351.3,897.5l-0.0,5.1M360.7,898.3l3.3,3.9M371.7,879.7l3.1,4.0M383.1,881.0l2.4,4.5M393.8,868.3l3.9,3.3M405.1,855.3l3.2,4.0M417.3,849.3l2.0,4.7M428.7,845.3l1.9,4.7M439.7,840.4l2.0,4.7M451.0,835.8l1.3,4.9M462.3,834.2l0.8,5.0M472.0,832.8l2.6,4.4M482.8,822.0l4.4,2.7M494.8,795.0l3.8,3.4M509.2,796.3l-3.1,4.1M520.3,811.3l-3.1,4.0M528.0,814.1l3.9,3.3M538.7,785.6l4.6,2.3M550.7,768.7l3.2,4.0M563.5,766.5l-0.5,5.1M573.6,770.2l1.4,4.9M583.4,761.6l4.6,2.2M594.9,723.9l3.6,3.6M609.8,739.8l-4.5,2.4M620.9,766.1l-4.3,2.7M630.9,774.6l-1.7,4.8M639.9,773.2l2.2,4.6M651.4,763.7l2.2,4.6M664.6,762.1l-1.8,4.8M674.9,772.0l0.2,5.1M684.3,761.8l3.3,3.9M696.5,752.6l1.9,4.7M708.6,752.7l-2.3,4.6M721.6,764.5l-4.2,2.9M731.9,785.3l-3.9,3.3M741.8,788.6l-1.6,4.8M752.8,792.0l0.4,5.1M764.1,786.5l-0.8,5.0M775.6,795.5l-1.2,5.0M787.3,792.3l-2.5,4.4M798.7,808.5l-2.4,4.5M807.5,804.0l1.0,5.0M820.8,804.3l-2.7,4.3M832.1,818.6l-4.3,2.8M844.0,839.4l-3.9,3.2M854.2,845.6l-3.4,3.8M863.9,858.5l1.1,5.0M873.6,840.3l2.7,4.3M887.5,845.4l-3.0,4.1M899.3,856.9l-3.6,3.6M910.2,867.9l-2.9,4.2M920.1,872.0l-0.2,5.1M932.6,869.0l-3.2,4.0M944.8,891.4l-4.6,2.1M955.9,919.7l-4.4,2.5M966.3,929.8l-2.6,4.4M973.7,931.5l2.5,4.4M984.1,918.3l3.8,3.4M996.9,906.2l1.2,5.0M1008.3,912.0l0.8,5.0M1018.7,902.8l2.7,4.3M1030.9,898.2l0.1,5.1M1042.4,902.0l0.2,5.1M1053.0,897.5l-1.0,5.0M1065.3,906.8l-3.3,3.9M1076.2,916.8l-2.5,4.5M1085.6,918.5l0.9,5.0M1097.2,912.5l0.5,5.1M1109.4,916.2l-1.3,4.9M1121.2,918.7l-2.3,4.5M1132.7,928.1l-3.4,3.8M1142.3,938.2l0.5,5.1M1151.6,925.9l2.8,4.3M1165.4,923.5l-0.8,5.0M1176.9,929.3l-1.9,4.7M1188.5,932.6l-1.9,4.7M1199.4,938.5l-1.3,4.9M1208.7,938.8l2.5,4.4M1220.3,926.2l0.5,5.1M1232.9,936.6l-1.8,4.8M1241.5,935.0l3.1,4.1M1252.7,920.2l3.6,3.6M1263.4,913.4l4.6,2.1M1274.6,871.5l4.7,1.9M1286.5,856.9l2.9,4.2M1297.6,854.9l2.8,4.3M1308.6,842.8l3.9,3.3M1320.9,828.3l1.7,4.8M1333.5,834.2l-1.0,5.0M1344.0,832.5l-0.0,5.1" fill="none" stroke="#ffffff" stroke-opacity="0.38" stroke-width="0.8"/>
<polyline points="1391.4,866.1 1402.5,863.6 1413.7,858.7 1424.8,853.8 1436.0,849.3 1447.1,844.9 1458.2,840.5 1469.4,836.2 1480.5,831.9 1491.7,827.8 1502.8,823.7 1513.9,820.0 1525.1,816.4 1536.2,813.2 1547.4,810.4 1558.5,808.6 1569.6,807.6 1580.8,806.7 1591.9,806.5 1603.1,807.0 1614.2,808.8 1625.3,812.3 1636.5,816.6 1647.6,821.1 1658.8,826.3 1669.9,832.1 1681.0,838.3 1692.2,845.0 1703.3,852.5 1714.5,860.4 1725.6,868.6 1736.7,877.2 1747.9,886.6 1759.0,896.2 1770.2,905.3 1781.3,913.9 1792.4,922.1 1803.6,929.8 1814.7,937.1 1825.9,944.0 1837.0,950.4 1848.1,956.4 1859.3,962.2 1870.4,967.6 1881.6,972.9 1890.0,976.9" fill="none" stroke="#cdd2d2" stroke-width="4.5" stroke-linejoin="round" stroke-linecap="butt"/>
<polyline points="1390.4,864.6 1401.5,862.1 1412.7,857.2 1423.8,852.3 1435.0,847.8 1446.1,843.4 1457.2,839.0 1468.4,834.7 1479.5,830.4 1490.7,826.3 1501.8,822.2 1512.9,818.5 1524.1,814.9 1535.2,811.7 1546.4,808.9 1557.5,807.1 1568.6,806.1 1579.8,805.2 1590.9,805.0 1602.1,805.5 1613.2,807.3 1624.3,810.8 1635.5,815.1 1646.6,819.6 1657.8,824.8 1668.9,830.6 1680.0,836.8 1691.2,843.5 1702.3,851.0 1713.5,858.9 1724.6,867.1 1735.7,875.7 1746.9,885.1 1758.0,894.7 1769.2,903.8 1780.3,912.4 1791.4,920.6 1802.6,928.3 1813.7,935.6 1824.9,942.5 1836.0,948.9 1847.1,954.9 1858.3,960.7 1869.4,966.1 1880.6,971.4 1889.0,975.4" fill="none" stroke="#767676" stroke-width="4.5" stroke-linejoin="round" stroke-linecap="butt"/>
<path d="M1400.7,859.7l1.6,4.8M1411.7,854.9l2.1,4.7M1422.8,850.0l2.0,4.7M1434.0,845.5l1.9,4.7M1445.2,841.0l1.9,4.7M1456.3,836.6l1.8,4.8M1467.5,832.3l1.8,4.8M1478.6,828.1l1.8,4.8M1489.8,823.9l1.8,4.8M1501.0,819.8l1.7,4.8M1512.1,816.0l1.6,4.8M1523.3,812.5l1.5,4.9M1534.6,809.2l1.3,4.9M1545.9,806.4l1.0,5.0M1557.2,804.6l0.6,5.1M1568.4,803.5l0.4,5.1M1579.7,802.7l0.2,5.1M1591.0,802.5l-0.1,5.1M1602.3,803.0l-0.5,5.1M1613.8,804.8l-1.2,5.0M1625.2,808.4l-1.7,4.8M1636.4,812.7l-1.9,4.7M1647.6,817.3l-2.0,4.7M1658.9,822.5l-2.2,4.6M1670.1,828.3l-2.4,4.5M1681.3,834.6l-2.6,4.4M1692.6,841.3l-2.7,4.3M1703.8,848.9l-2.9,4.2M1715.0,856.9l-3.0,4.1M1726.1,865.0l-3.1,4.1M1737.3,873.7l-3.2,4.0M1748.5,883.2l-3.3,3.9M1759.7,892.8l-3.3,3.9M1770.7,901.9l-3.2,4.0M1781.8,910.4l-3.1,4.1M1792.9,918.5l-3.0,4.2M1804.0,926.2l-2.8,4.2M1815.1,933.5l-2.7,4.3M1826.2,940.3l-2.6,4.4M1837.2,946.7l-2.5,4.5M1848.3,952.7l-2.4,4.5M1859.4,958.4l-2.3,4.6M1870.5,963.8l-2.2,4.6M1881.7,969.1l-2.2,4.6" fill="none" stroke="#ffffff" stroke-opacity="0.38" stroke-width="0.8"/>
<polyline points="1389.8,868.2 1400.9,865.7 1412.1,860.8 1423.2,855.9 1434.4,851.4 1445.5,847.0 1456.6,842.6 1467.8,838.3 1478.9,834.0 1490.1,829.9 1501.2,825.8 1512.3,822.1 1523.5,818.5 1534.6,815.3 1545.8,812.5 1556.9,810.7 1568.0,809.7 1579.2,808.8 1590.3,808.6 1601.5,809.1 1612.6,810.9 1623.7,814.4 1634.9,818.7 1646.0,823.2 1657.2,828.4 1668.3,834.2 1679.4,840.4 1690.6,847.1 1701.7,854.6 1712.9,862.5 1724.0,870.7 1735.1,879.3 1746.3,888.7 1757.4,898.3 1768.6,907.4 1779.7,916.0 1790.8,924.2 1802.0,931.9 1813.1,939.2 1824.3,946.1 1835.4,952.5 1846.5,958.5 1857.7,964.3 1868.8,969.7 1880.0,975.0 1888.4,979.0" fill="none" stroke="#d2d2d2" stroke-width="1.00" stroke-linejoin="round" stroke-dasharray="8 4"/>
<polyline points="1357.0,837.0 1367.0,838.6" fill="none" stroke="#737373" stroke-width="1.20" stroke-linejoin="round" stroke-dasharray="4 3"/>
<polyline points="1356.0,859.3 1364.0,860.5" fill="none" stroke="#c4c4c4" stroke-width="1.00" stroke-linejoin="round" stroke-dasharray="4 3"/>
<polyline points="50.0,682.0 95.0,679.0 161.7,678.0 206.7,677.0 283.0,673.0 362.0,669.0 406.7,665.7 473.0,661.0 530.0,654.0 585.7,646.7 600.0,645.5 662.5,638.7 730.0,628.7 807.5,622.0 862.5,616.2 931.2,610.0 990.0,608.0 1045.0,604.5 1110.0,600.7 1200.0,596.0 1277.5,592.0 1376.7,585.0" fill="none" stroke="#8a8a8a" stroke-width="1.00" stroke-linejoin="round"/>
<polyline points="1376.7,585.0 1387.8,584.0 1399.0,583.0 1410.1,582.0 1421.3,581.0 1432.4,580.0 1443.5,579.1 1454.7,578.1 1465.8,577.1 1477.0,576.1 1488.1,575.1 1499.2,574.0 1510.4,572.9 1521.5,571.7 1532.7,570.5 1543.8,569.3 1554.9,568.1 1566.1,567.0 1577.2,565.8 1588.4,564.7 1599.5,563.6 1610.6,562.5 1621.8,561.5 1632.9,560.4 1644.1,559.3 1655.2,558.2 1666.3,557.2 1677.5,556.1 1688.6,555.0 1699.8,553.8 1710.9,552.8 1722.0,551.8 1733.2,550.9 1744.3,550.1 1755.5,549.4 1766.6,548.8 1777.7,548.3 1788.9,547.8 1800.0,547.4 1811.2,546.9 1822.3,546.5 1833.4,546.0 1844.6,545.6 1855.7,545.2 1866.9,544.9 1878.0,544.5 1887.0,544.2" fill="none" stroke="#8a8a8a" stroke-width="1.00" stroke-linejoin="round" stroke-dasharray="14 7"/>
<circle cx="1376.7" cy="585.0" r="2.6" fill="none" stroke="#8a8a8a" stroke-width="1"/>
<text x="585.0" y="872.6" font-size="12.2" text-anchor="middle" font-weight="normal" textLength="14.2" lengthAdjust="spacingAndGlyphs"  fill="#B878BE" stroke="#B878BE" stroke-width="0.30">24</text>
<text x="585.0" y="885.5" font-size="12.2" text-anchor="middle" font-weight="normal" textLength="48.8" lengthAdjust="spacingAndGlyphs"  fill="#B878BE" stroke="#B878BE" stroke-width="0.30">18.11.2021</text>
<polyline points="51.7,977.3 61.7,979.3 72.7,976.7 83.3,976.0 95.0,979.3 106.0,977.3 116.7,978.3 128.3,975.0 140.0,970.0 151.7,971.3 161.7,976.0 173.3,978.3 184.3,983.3 195.7,987.3 206.7,987.3 217.3,989.3 228.3,987.3 239.3,981.0 250.7,978.3 262.0,973.3 273.3,969.3 284.3,966.7 295.7,963.3 307.0,957.3 318.3,958.7 329.3,958.3 340.0,953.3 351.3,949.3 362.3,946.0 373.3,946.7 384.3,940.0 395.7,934.0 406.7,927.3 418.3,928.7 429.7,923.3 440.7,921.7 451.7,915.0 462.7,908.7 473.3,913.3 485.0,906.7 496.7,906.7 507.7,907.7 518.7,899.3 530.0,890.7 541.0,896.7 552.3,895.0 563.3,894.0 574.3,896.7 585.7,891.3 596.7,894.0 608.3,894.0 618.7,893.0 630.0,892.0 641.0,900.5 652.5,896.0 663.7,905.0 675.0,912.5 686.0,911.0 697.5,917.5 707.5,920.0 719.5,918.7 730.0,917.0 741.0,919.5 751.7,914.5 763.7,921.0 775.0,928.7 786.0,937.5 797.5,934.5 808.0,942.5 819.5,946.0 830.0,950.7 842.0,954.5 852.5,951.0 864.5,943.0 875.0,951.0 886.0,956.0 897.5,954.5 908.7,960.0 920.0,960.0 931.0,963.7 942.5,966.0 953.7,968.0 965.0,968.7 986.0,963.7 997.5,967.5 1008.7,971.7 1020.0,968.7 1031.0,971.0 1042.5,968.7 1052.5,971.0 1063.7,975.5 1075.0,976.0 1086.0,973.7 1097.5,972.5 1108.7,974.0 1120.0,970.5 1131.0,974.0 1142.5,972.5 1153.0,975.0 1165.0,975.5 1176.0,976.0 1187.5,973.7 1198.7,975.5 1210.0,974.5 1220.5,974.0 1232.0,971.0 1243.0,975.5 1254.5,978.0 1265.7,981.0 1277.0,982.5 1288.0,984.0 1299.0,981.7 1310.5,978.7 1321.7,973.7 1333.0,967.5 1344.0,960.0 1350.0,956.0" fill="none" stroke="#9420A4" stroke-width="1.00" stroke-linejoin="round"/>
<polyline points="1350.0,956.0 1366.0,946.0 1377.1,944.1 1388.3,942.0 1399.4,939.4 1410.6,936.5 1421.7,934.0 1432.8,932.0 1444.0,930.4 1455.1,928.8 1466.3,927.0 1477.4,925.6 1488.5,925.5 1499.7,926.7 1510.8,928.6 1522.0,931.0 1533.1,933.8 1544.2,936.9 1555.4,940.5 1566.5,944.2 1577.7,947.7 1588.8,951.2 1599.9,954.8 1611.1,958.5 1622.2,962.6 1633.4,966.8 1644.5,971.1 1655.6,975.2 1666.8,979.3 1677.9,983.3 1689.1,987.0 1700.2,990.5 1711.3,993.7 1722.5,996.7 1733.6,999.5 1744.8,1002.1 1755.9,1004.6 1767.0,1006.9 1778.2,1009.0 1789.3,1011.0 1800.5,1012.8 1811.6,1014.2 1822.7,1015.5 1833.9,1016.7 1845.0,1017.8 1856.2,1018.9 1867.3,1019.9 1878.4,1020.7 1886.7,1021.3" fill="none" stroke="#9020A4" stroke-width="1.20" stroke-linejoin="round" stroke-dasharray="7 4.6"/>
<circle cx="585.7" cy="891.3" r="2.6" fill="none" stroke="#A850B0" stroke-width="1"/>
<circle cx="1477.8" cy="926.0" r="2.6" fill="none" stroke="#8B0A8B" stroke-width="1"/>
<circle cx="72.7" cy="872.0" r="2.9" fill="#19D0D4" stroke="#14C4CA" stroke-width="1.1"/>
<circle cx="642.0" cy="598.7" r="2.9" fill="#19D0D4" stroke="#14C4CA" stroke-width="1.1"/>
<circle cx="1522.2" cy="675.0" r="2.9" fill="#19D0D4" stroke="#14C4CA" stroke-width="1.1"/>
<circle cx="663.7" cy="820.0" r="2.9" fill="#FF1616" stroke="#F01010" stroke-width="1.1"/>
<circle cx="1545.0" cy="881.0" r="2.9" fill="#FF1616" stroke="#F01010" stroke-width="1.1"/>
<circle cx="1589.0" cy="805.0" r="2.9" fill="#5a6a6a" stroke="#2F4F4F" stroke-width="1.1"/>
<circle cx="1377.5" cy="763.7" r="2.9" fill="#19D0D4" stroke="#14C4CA" stroke-width="1"/>
<circle cx="1377.2" cy="939.2" r="2.8" fill="#FF1616" stroke="#F01010" stroke-width="1"/>
<rect x="1373.2" y="552.2" width="5.6" height="5.6" fill="none" stroke="#B42424" stroke-width="1.2"/>
<rect x="1351.7" y="570.2" width="5.6" height="5.6" fill="none" stroke="#B42424" stroke-width="1.2"/>
<rect x="1362.2" y="627.2" width="5.6" height="5.6" fill="none" stroke="#B42424" stroke-width="1.2"/>
<rect x="1351.6" y="957.8" width="5.6" height="5.6" fill="none" stroke="#7B0F9B" stroke-width="1.2"/>
<rect x="1362.8" y="928.7" width="5.6" height="5.6" fill="none" stroke="#7B0F9B" stroke-width="1.2"/>
<rect x="1373.7" y="946.6" width="5.6" height="5.6" fill="none" stroke="#7B0F9B" stroke-width="1.2"/>
<path d="M1351.3,808.0 h6.4 M1354.5,804.8 v6.4" stroke="#5c5c5c" stroke-width="1.7"/>
<path d="M1361.8,883.7 h6.4 M1365.0,880.5 v6.4" stroke="#5c5c5c" stroke-width="1.7"/>
<path d="M1373.5,897.5 h6.4 M1376.7,894.3 v6.4" stroke="#5c5c5c" stroke-width="1.7"/>
<text x="1129.0" y="486.0" font-size="12.2" text-anchor="middle" font-weight="normal" textLength="20.8" lengthAdjust="spacingAndGlyphs"  fill="none" stroke="#ffffff" stroke-width="3.6" stroke-opacity="0.88" stroke-linejoin="round">1,80</text>
<text x="1129.0" y="486.0" font-size="12.2" text-anchor="middle" font-weight="normal" textLength="20.8" lengthAdjust="spacingAndGlyphs"  fill="#4B1090" stroke="#4B1090" stroke-width="0.60">1,80</text>
<text x="1129.0" y="500.0" font-size="12.2" text-anchor="middle" font-weight="normal" textLength="45.1" lengthAdjust="spacingAndGlyphs"  fill="none" stroke="#ffffff" stroke-width="3.6" stroke-opacity="0.88" stroke-linejoin="round">6.1.2022</text>
<text x="1129.0" y="500.0" font-size="12.2" text-anchor="middle" font-weight="normal" textLength="45.1" lengthAdjust="spacingAndGlyphs"  fill="#4B1090" stroke="#4B1090" stroke-width="0.60">6.1.2022</text>
<text x="528.0" y="526.6" font-size="12.2" text-anchor="middle" font-weight="normal" textLength="17.8" lengthAdjust="spacingAndGlyphs"  fill="none" stroke="#ffffff" stroke-width="3.6" stroke-opacity="0.88" stroke-linejoin="round">109</text>
<text x="528.0" y="526.6" font-size="12.2" text-anchor="middle" font-weight="normal" textLength="17.8" lengthAdjust="spacingAndGlyphs"  fill="#B42424" stroke="#B42424" stroke-width="0.60">109</text>
<text x="528.0" y="540.8" font-size="12.2" text-anchor="middle" font-weight="normal" textLength="48.8" lengthAdjust="spacingAndGlyphs"  fill="none" stroke="#ffffff" stroke-width="3.6" stroke-opacity="0.88" stroke-linejoin="round">13.11.2021</text>
<text x="528.0" y="540.8" font-size="12.2" text-anchor="middle" font-weight="normal" textLength="48.8" lengthAdjust="spacingAndGlyphs"  fill="#B42424" stroke="#B42424" stroke-width="0.60">13.11.2021</text>
<text x="1464.5" y="478.0" font-size="12.2" text-anchor="middle" font-weight="normal" textLength="17.8" lengthAdjust="spacingAndGlyphs"  fill="none" stroke="#ffffff" stroke-width="3.6" stroke-opacity="0.88" stroke-linejoin="round">120</text>
<text x="1464.5" y="478.0" font-size="12.2" text-anchor="middle" font-weight="normal" textLength="17.8" lengthAdjust="spacingAndGlyphs"  fill="#B42424" stroke="#B42424" stroke-width="0.60">120</text>
<text x="1464.5" y="491.5" font-size="12.2" text-anchor="middle" font-weight="normal" textLength="48.6" lengthAdjust="spacingAndGlyphs"  fill="none" stroke="#ffffff" stroke-width="3.6" stroke-opacity="0.88" stroke-linejoin="round">5.2.2022</text>
<text x="1464.5" y="491.5" font-size="12.2" text-anchor="middle" font-weight="normal" textLength="48.6" lengthAdjust="spacingAndGlyphs"  fill="#B42424" stroke="#B42424" stroke-width="0.60">5.2.2022</text>
<text x="449.0" y="817.5" font-size="12.2" text-anchor="middle" font-weight="normal" textLength="28.4" lengthAdjust="spacingAndGlyphs"  fill="none" stroke="#ffffff" stroke-width="3.6" stroke-opacity="0.88" stroke-linejoin="round">3338</text>
<text x="449.0" y="817.5" font-size="12.2" text-anchor="middle" font-weight="normal" textLength="28.4" lengthAdjust="spacingAndGlyphs"  fill="#101088" stroke="#101088" stroke-width="0.60">3338</text>
<text x="449.0" y="832.0" font-size="12.2" text-anchor="middle" font-weight="normal" textLength="45.2" lengthAdjust="spacingAndGlyphs"  fill="none" stroke="#ffffff" stroke-width="3.6" stroke-opacity="0.88" stroke-linejoin="round">6.11.2021</text>
<text x="449.0" y="832.0" font-size="12.2" text-anchor="middle" font-weight="normal" textLength="45.2" lengthAdjust="spacingAndGlyphs"  fill="#101088" stroke="#101088" stroke-width="0.60">6.11.2021</text>
<text x="70.3" y="852.0" font-size="12.2" text-anchor="middle" font-weight="normal" textLength="17.8" lengthAdjust="spacingAndGlyphs"  fill="none" stroke="#ffffff" stroke-width="3.6" stroke-opacity="0.88" stroke-linejoin="round">431</text>
<text x="70.3" y="852.0" font-size="12.2" text-anchor="middle" font-weight="normal" textLength="17.8" lengthAdjust="spacingAndGlyphs"  fill="#08B0BA" stroke="#08B0BA" stroke-width="0.60">431</text>
<text x="70.3" y="866.2" font-size="12.2" text-anchor="middle" font-weight="normal" textLength="48.7" lengthAdjust="spacingAndGlyphs"  fill="none" stroke="#ffffff" stroke-width="3.6" stroke-opacity="0.88" stroke-linejoin="round">3.10.2021</text>
<text x="70.3" y="866.2" font-size="12.2" text-anchor="middle" font-weight="normal" textLength="48.7" lengthAdjust="spacingAndGlyphs"  fill="#08B0BA" stroke="#08B0BA" stroke-width="0.60">3.10.2021</text>
<text x="640.0" y="579.0" font-size="12.2" text-anchor="middle" font-weight="normal" textLength="21.4" lengthAdjust="spacingAndGlyphs"  fill="none" stroke="#ffffff" stroke-width="3.6" stroke-opacity="0.88" stroke-linejoin="round">1168</text>
<text x="640.0" y="579.0" font-size="12.2" text-anchor="middle" font-weight="normal" textLength="21.4" lengthAdjust="spacingAndGlyphs"  fill="#08B0BA" stroke="#08B0BA" stroke-width="0.60">1168</text>
<text x="640.0" y="593.0" font-size="12.2" text-anchor="middle" font-weight="normal" textLength="52.3" lengthAdjust="spacingAndGlyphs"  fill="none" stroke="#ffffff" stroke-width="3.6" stroke-opacity="0.88" stroke-linejoin="round">23.11.2021</text>
<text x="640.0" y="593.0" font-size="12.2" text-anchor="middle" font-weight="normal" textLength="52.3" lengthAdjust="spacingAndGlyphs"  fill="#08B0BA" stroke="#08B0BA" stroke-width="0.60">23.11.2021</text>
<text x="1519.0" y="654.5" font-size="12.2" text-anchor="middle" font-weight="normal" textLength="21.3" lengthAdjust="spacingAndGlyphs"  fill="none" stroke="#ffffff" stroke-width="3.6" stroke-opacity="0.88" stroke-linejoin="round">963</text>
<text x="1519.0" y="654.5" font-size="12.2" text-anchor="middle" font-weight="normal" textLength="21.3" lengthAdjust="spacingAndGlyphs"  fill="#08B0BA" stroke="#08B0BA" stroke-width="0.60">963</text>
<text x="1519.0" y="668.5" font-size="12.2" text-anchor="middle" font-weight="normal" textLength="52.2" lengthAdjust="spacingAndGlyphs"  fill="none" stroke="#ffffff" stroke-width="3.6" stroke-opacity="0.88" stroke-linejoin="round">10.2.2022</text>
<text x="1519.0" y="668.5" font-size="12.2" text-anchor="middle" font-weight="normal" textLength="52.2" lengthAdjust="spacingAndGlyphs"  fill="#08B0BA" stroke="#08B0BA" stroke-width="0.60">10.2.2022</text>
<text x="661.0" y="800.0" font-size="12.2" text-anchor="middle" font-weight="normal" textLength="21.3" lengthAdjust="spacingAndGlyphs"  fill="none" stroke="#ffffff" stroke-width="3.6" stroke-opacity="0.88" stroke-linejoin="round">289</text>
<text x="661.0" y="800.0" font-size="12.2" text-anchor="middle" font-weight="normal" textLength="21.3" lengthAdjust="spacingAndGlyphs"  fill="#F01414" stroke="#F01414" stroke-width="0.60">289</text>
<text x="661.0" y="814.5" font-size="12.2" text-anchor="middle" font-weight="normal" textLength="52.3" lengthAdjust="spacingAndGlyphs"  fill="none" stroke="#ffffff" stroke-width="3.6" stroke-opacity="0.88" stroke-linejoin="round">25.11.2021</text>
<text x="661.0" y="814.5" font-size="12.2" text-anchor="middle" font-weight="normal" textLength="52.3" lengthAdjust="spacingAndGlyphs"  fill="#F01414" stroke="#F01414" stroke-width="0.60">25.11.2021</text>
<text x="1541.5" y="861.0" font-size="12.2" text-anchor="middle" font-weight="normal" textLength="21.3" lengthAdjust="spacingAndGlyphs"  fill="none" stroke="#ffffff" stroke-width="3.6" stroke-opacity="0.88" stroke-linejoin="round">206</text>
<text x="1541.5" y="861.0" font-size="12.2" text-anchor="middle" font-weight="normal" textLength="21.3" lengthAdjust="spacingAndGlyphs"  fill="#F01414" stroke="#F01414" stroke-width="0.60">206</text>
<text x="1541.5" y="874.5" font-size="12.2" text-anchor="middle" font-weight="normal" textLength="52.2" lengthAdjust="spacingAndGlyphs"  fill="none" stroke="#ffffff" stroke-width="3.6" stroke-opacity="0.88" stroke-linejoin="round">12.2.2022</text>
<text x="1541.5" y="874.5" font-size="12.2" text-anchor="middle" font-weight="normal" textLength="52.2" lengthAdjust="spacingAndGlyphs"  fill="#F01414" stroke="#F01414" stroke-width="0.60">12.2.2022</text>
<text x="1586.0" y="785.0" font-size="12.2" text-anchor="middle" font-weight="normal" textLength="20.8" lengthAdjust="spacingAndGlyphs"  fill="none" stroke="#ffffff" stroke-width="3.6" stroke-opacity="0.88" stroke-linejoin="round">15,3</text>
<text x="1586.0" y="785.0" font-size="12.2" text-anchor="middle" font-weight="normal" textLength="20.8" lengthAdjust="spacingAndGlyphs"  fill="#2F4F4F" stroke="#2F4F4F" stroke-width="0.60">15,3</text>
<text x="1586.0" y="798.0" font-size="12.2" text-anchor="middle" font-weight="normal" textLength="52.2" lengthAdjust="spacingAndGlyphs"  fill="none" stroke="#ffffff" stroke-width="3.6" stroke-opacity="0.88" stroke-linejoin="round">16.2.2022</text>
<text x="1586.0" y="798.0" font-size="12.2" text-anchor="middle" font-weight="normal" textLength="52.2" lengthAdjust="spacingAndGlyphs"  fill="#2F4F4F" stroke="#2F4F4F" stroke-width="0.60">16.2.2022</text>
<text x="1475.0" y="905.5" font-size="12.2" text-anchor="middle" font-weight="normal" textLength="20.8" lengthAdjust="spacingAndGlyphs"  fill="none" stroke="#ffffff" stroke-width="3.6" stroke-opacity="0.88" stroke-linejoin="round">18,0</text>
<text x="1475.0" y="905.5" font-size="12.2" text-anchor="middle" font-weight="normal" textLength="20.8" lengthAdjust="spacingAndGlyphs"  fill="#8B0A8B" stroke="#8B0A8B" stroke-width="0.60">18,0</text>
<text x="1475.0" y="919.5" font-size="12.2" text-anchor="middle" font-weight="normal" textLength="48.6" lengthAdjust="spacingAndGlyphs"  fill="none" stroke="#ffffff" stroke-width="3.6" stroke-opacity="0.88" stroke-linejoin="round">6.2.2022</text>
<text x="1475.0" y="919.5" font-size="12.2" text-anchor="middle" font-weight="normal" textLength="48.6" lengthAdjust="spacingAndGlyphs"  fill="#8B0A8B" stroke="#8B0A8B" stroke-width="0.60">6.2.2022</text>
<text x="1375.9" y="599.0" font-size="10.7" text-anchor="middle" font-weight="normal" textLength="27.4" lengthAdjust="spacingAndGlyphs"  fill="none" stroke="#ffffff" stroke-width="3.6" stroke-opacity="0.88" stroke-linejoin="round">5844</text>
<text x="1375.9" y="599.0" font-size="10.7" text-anchor="middle" font-weight="normal" textLength="27.4" lengthAdjust="spacingAndGlyphs"  fill="#808080" stroke="#808080" stroke-width="0.50">5844</text>
<text x="1876.0" y="540.0" font-size="12.2" text-anchor="middle" font-weight="normal" textLength="26.4" lengthAdjust="spacingAndGlyphs"  fill="none" stroke="#ffffff" stroke-width="3.6" stroke-opacity="0.88" stroke-linejoin="round">6367</text>
<text x="1876.0" y="540.0" font-size="12.2" text-anchor="middle" font-weight="normal" textLength="26.4" lengthAdjust="spacingAndGlyphs"  fill="#707070" stroke="#707070" stroke-width="0.50">6367</text>
<text x="1382.4" y="668.0" font-size="10.7" text-anchor="middle" font-weight="normal" textLength="14.6" lengthAdjust="spacingAndGlyphs"  fill="none" stroke="#ffffff" stroke-width="3.6" stroke-opacity="0.88" stroke-linejoin="round">1,15</text>
<text x="1382.4" y="668.0" font-size="10.7" text-anchor="middle" font-weight="normal" textLength="14.6" lengthAdjust="spacingAndGlyphs"  fill="#4B1090" stroke="#4B1090" stroke-width="0.50">1,15</text>
<text x="1879.0" y="756.5" font-size="12.2" text-anchor="middle" font-weight="normal" textLength="23.8" lengthAdjust="spacingAndGlyphs"  fill="none" stroke="#ffffff" stroke-width="3.6" stroke-opacity="0.88" stroke-linejoin="round">0,68</text>
<text x="1879.0" y="756.5" font-size="12.2" text-anchor="middle" font-weight="normal" textLength="23.8" lengthAdjust="spacingAndGlyphs"  fill="#4B1090" stroke="#4B1090" stroke-width="0.50">0,68</text>
<text x="1380.2" y="777.0" font-size="10.7" text-anchor="middle" font-weight="normal" textLength="17.8" lengthAdjust="spacingAndGlyphs"  fill="none" stroke="#ffffff" stroke-width="3.6" stroke-opacity="0.88" stroke-linejoin="round">726</text>
<text x="1380.2" y="777.0" font-size="10.7" text-anchor="middle" font-weight="normal" textLength="17.8" lengthAdjust="spacingAndGlyphs"  fill="#08B0BA" stroke="#08B0BA" stroke-width="0.50">726</text>
<text x="1382.8" y="952.8" font-size="10.7" text-anchor="middle" font-weight="normal" textLength="13.6" lengthAdjust="spacingAndGlyphs"  fill="none" stroke="#ffffff" stroke-width="3.6" stroke-opacity="0.88" stroke-linejoin="round">127</text>
<text x="1382.8" y="952.8" font-size="10.7" text-anchor="middle" font-weight="normal" textLength="13.6" lengthAdjust="spacingAndGlyphs"  fill="#F01414" stroke="#F01414" stroke-width="0.50">127</text>
<rect x="1317.0" y="44.8" width="62.0" height="21.1" fill="#8e8e8e"/>
<rect x="1316.5" y="43.3" width="62.0" height="21.1" fill="#FEFEF0" stroke="#8a8a8a" stroke-width="1"/>
<text x="1321.2" y="58.1" font-size="13.0" text-anchor="start" font-weight="normal" textLength="53.2" lengthAdjust="spacingAndGlyphs"  fill="#0B7A0B" stroke="#0B7A0B" stroke-width="0.30">cep: auto</text>
<rect x="1283.0" y="70.0" width="96.0" height="21.1" fill="#8e8e8e"/>
<rect x="1282.5" y="68.5" width="96.0" height="21.1" fill="#FEFEF0" stroke="#8a8a8a" stroke-width="1"/>
<text x="1286.9" y="83.3" font-size="13.0" text-anchor="start" font-weight="normal" textLength="85.8" lengthAdjust="spacingAndGlyphs"  fill="#5A0F8C" stroke="#5A0F8C" stroke-width="0.30">eff.cep.: 0,455</text>
<rect x="1254.0" y="95.0" width="125.0" height="21.1" fill="#8e8e8e"/>
<rect x="1253.5" y="93.5" width="125.0" height="21.1" fill="#FEFEF0" stroke="#8a8a8a" stroke-width="1"/>
<text x="1258.1" y="108.3" font-size="13.0" text-anchor="start" font-weight="normal" textLength="111.3" lengthAdjust="spacingAndGlyphs"  fill="#10108A" stroke="#10108A" stroke-width="0.30">prekuženost: 0,786</text>
<text x="1389.0" y="60.0" font-size="14.5" text-anchor="start" font-weight="bold" textLength="77.5" lengthAdjust="spacingAndGlyphs" fill="#c8c8c8">NAPOVED</text>
<text x="1387.5" y="58.5" font-size="14.5" text-anchor="start" font-weight="bold" textLength="77.5" lengthAdjust="spacingAndGlyphs"  fill="#5F9EA0" stroke="#5F9EA0" stroke-width="0.45">NAPOVED</text>
<text x="1389.0" y="80.0" font-size="14.5" text-anchor="start" font-weight="bold" textLength="74.0" lengthAdjust="spacingAndGlyphs" fill="#c8c8c8">29.1.2022</text>
<text x="1387.5" y="78.5" font-size="14.5" text-anchor="start" font-weight="bold" textLength="74.0" lengthAdjust="spacingAndGlyphs"  fill="#2F4F4F" stroke="#2F4F4F" stroke-width="0.45">29.1.2022</text>
<text x="13.5" y="26.5" font-size="20.5" text-anchor="start" font-weight="bold" textLength="94.0" lengthAdjust="spacingAndGlyphs" fill="#c8c8c8">28.1.2022</text>
<text x="12.0" y="25.0" font-size="20.5" text-anchor="start" font-weight="bold" textLength="94.0" lengthAdjust="spacingAndGlyphs"  fill="#000080" stroke="#000080" stroke-width="0.60">28.1.2022</text>
<text x="112.0" y="18.0" font-size="10.5" text-anchor="start" font-weight="normal" textLength="15.5" lengthAdjust="spacingAndGlyphs"  fill="#2F4F4F" stroke="#2F4F4F" stroke-width="0.45">pet</text>
<text x="158.5" y="26.5" font-size="20.5" text-anchor="start" font-weight="bold" textLength="281.0" lengthAdjust="spacingAndGlyphs" fill="#c8c8c8">STANDARDNA PROJEKCIJA</text>
<text x="157.0" y="25.0" font-size="20.5" text-anchor="start" font-weight="bold" textLength="281.0" lengthAdjust="spacingAndGlyphs"  fill="#2F4F4F" stroke="#2F4F4F" stroke-width="0.60">STANDARDNA PROJEKCIJA</text>
<text x="1714.5" y="22.0" font-size="12.5" text-anchor="start" font-weight="normal" textLength="115.0" lengthAdjust="spacingAndGlyphs"  fill="#2F4F4F" stroke="#2F4F4F" stroke-width="0.45">https://covidslo.net</text>
<text x="1835.0" y="22.0" font-size="15.5" text-anchor="start" font-weight="bold" textLength="42.5" lengthAdjust="spacingAndGlyphs"  fill="#0000F0" stroke="#0000F0" stroke-width="0.45">covid</text>
<text x="1879.5" y="22.0" font-size="15.5" text-anchor="start" font-weight="bold" textLength="31.0" lengthAdjust="spacingAndGlyphs"  fill="#F00000" stroke="#F00000" stroke-width="0.45">SLO</text>
<text x="1720.5" y="42.0" font-size="15.0" text-anchor="start" font-weight="normal" textLength="195.5" lengthAdjust="spacingAndGlyphs" fill="#c8c8c8">Peter Malovrh, ©2020-2022</text>
<text x="1719.0" y="40.5" font-size="15.0" text-anchor="start" font-weight="normal" textLength="195.5" lengthAdjust="spacingAndGlyphs"  fill="#2F4F4F" stroke="#2F4F4F" stroke-width="0.45">Peter Malovrh, ©2020-2022</text>
<text x="58.3" y="1066.8" font-size="13.2" text-anchor="start" font-weight="normal" textLength="34.0" lengthAdjust="spacingAndGlyphs"  fill="#2F4F4F" stroke="#2F4F4F" stroke-width="0.35">cases</text>
<line x1="109.3" y1="1062.7" x2="123.3" y2="1062.7" stroke="#101088" stroke-width="3.0"/>
<text x="127.3" y="1066.8" font-size="13.2" text-anchor="start" font-weight="normal" textLength="58.0" lengthAdjust="spacingAndGlyphs"  fill="#101088" stroke="#101088" stroke-width="0.35">avg.cases</text>
<line x1="203.3" y1="1062.7" x2="217.3" y2="1062.7" stroke="#c0c0c0" stroke-width="3.0"/>
<text x="221.0" y="1066.8" font-size="13.2" text-anchor="start" font-weight="normal" textLength="47.3" lengthAdjust="spacingAndGlyphs"  fill="#c0c0c0" stroke="#c0c0c0" stroke-width="0.35">infected</text>
<line x1="286.7" y1="1062.7" x2="300.0" y2="1062.7" stroke="#c0c0c0" stroke-width="1.2"/>
<text x="304.0" y="1066.8" font-size="13.2" text-anchor="start" font-weight="normal" textLength="64.3" lengthAdjust="spacingAndGlyphs"  fill="#c0c0c0" stroke="#c0c0c0" stroke-width="0.35">all infected</text>
<line x1="385.0" y1="1062.7" x2="399.0" y2="1062.7" stroke="#c0c0c0" stroke-width="1.2"/>
<text x="402.7" y="1066.8" font-size="13.2" text-anchor="start" font-weight="normal" textLength="45.0" lengthAdjust="spacingAndGlyphs"  fill="#c0c0c0" stroke="#c0c0c0" stroke-width="0.35">odplake</text>
<line x1="465.7" y1="1062.7" x2="479.0" y2="1062.7" stroke="#8A50B8" stroke-width="1.2"/>
<text x="482.7" y="1066.8" font-size="13.2" text-anchor="start" font-weight="normal" textLength="8.3" lengthAdjust="spacingAndGlyphs"  fill="#5A2A9A" stroke="#5A2A9A" stroke-width="0.35">R</text>
<line x1="506.7" y1="1062.7" x2="520.0" y2="1062.7" stroke="#E06060" stroke-width="1.2"/>
<text x="524.0" y="1066.8" font-size="13.2" text-anchor="start" font-weight="normal" textLength="65.3" lengthAdjust="spacingAndGlyphs"  fill="#B42424" stroke="#B42424" stroke-width="0.35">admissions</text>
<line x1="608.3" y1="1062.7" x2="621.7" y2="1062.7" stroke="#c0c0c0" stroke-width="1.2"/>
<text x="625.0" y="1066.8" font-size="13.2" text-anchor="start" font-weight="normal" textLength="62.7" lengthAdjust="spacingAndGlyphs"  fill="#c0c0c0" stroke="#c0c0c0" stroke-width="0.35">discharged</text>
<line x1="706.7" y1="1062.7" x2="720.0" y2="1062.7" stroke="#1FCAD2" stroke-width="3.0"/>
<text x="724.0" y="1066.8" font-size="13.2" text-anchor="start" font-weight="normal" textLength="68.7" lengthAdjust="spacingAndGlyphs"  fill="#08B0BE" stroke="#08B0BE" stroke-width="0.35">hospitalized</text>
<line x1="811.7" y1="1062.7" x2="825.0" y2="1062.7" stroke="#c0c0c0" stroke-width="1.2"/>
<text x="829.0" y="1066.8" font-size="13.2" text-anchor="start" font-weight="normal" textLength="47.7" lengthAdjust="spacingAndGlyphs"  fill="#c0c0c0" stroke="#c0c0c0" stroke-width="0.35">all hosp.</text>
<line x1="893.3" y1="1062.7" x2="906.7" y2="1062.7" stroke="#F86060" stroke-width="1.5"/>
<text x="910.0" y="1066.8" font-size="13.2" text-anchor="start" font-weight="normal" textLength="17.3" lengthAdjust="spacingAndGlyphs"  fill="#F01414" stroke="#F01414" stroke-width="0.35">ICU</text>
<line x1="945.0" y1="1062.7" x2="958.3" y2="1062.7" stroke="#606060" stroke-width="1.5"/>
<text x="962.3" y="1066.8" font-size="13.2" text-anchor="start" font-weight="normal" textLength="37.7" lengthAdjust="spacingAndGlyphs"  fill="#101010" stroke="#101010" stroke-width="0.35">deaths</text>
<line x1="1019.0" y1="1062.7" x2="1032.3" y2="1062.7" stroke="#606060" stroke-width="1.5"/>
<text x="1036.0" y="1066.8" font-size="13.2" text-anchor="start" font-weight="normal" textLength="55.0" lengthAdjust="spacingAndGlyphs"  fill="#101010" stroke="#101010" stroke-width="0.35">all deaths</text>
<line x1="1110.0" y1="1062.7" x2="1123.3" y2="1062.7" stroke="#c0c0c0" stroke-width="1.2"/>
<text x="1127.3" y="1066.8" font-size="13.2" text-anchor="start" font-weight="normal" textLength="55.4" lengthAdjust="spacingAndGlyphs"  fill="#c0c0c0" stroke="#c0c0c0" stroke-width="0.35">vacc/day</text>
<line x1="1201.7" y1="1062.7" x2="1215.0" y2="1062.7" stroke="#c0c0c0" stroke-width="1.2"/>
<text x="1219.0" y="1066.8" font-size="13.2" text-anchor="start" font-weight="normal" textLength="26.0" lengthAdjust="spacingAndGlyphs"  fill="#c0c0c0" stroke="#c0c0c0" stroke-width="0.35">vacc</text>
<line x1="1262.7" y1="1062.7" x2="1276.0" y2="1062.7" stroke="#c0c0c0" stroke-width="1.2"/>
<text x="1280.0" y="1066.8" font-size="13.2" text-anchor="start" font-weight="normal" textLength="45.0" lengthAdjust="spacingAndGlyphs"  fill="#c0c0c0" stroke="#c0c0c0" stroke-width="0.35">immune</text>
<line x1="1342.3" y1="1062.7" x2="1355.7" y2="1062.7" stroke="#c0c0c0" stroke-width="1.2"/>
<text x="1359.3" y="1066.8" font-size="13.2" text-anchor="start" font-weight="normal" textLength="65.7" lengthAdjust="spacingAndGlyphs"  fill="#c0c0c0" stroke="#c0c0c0" stroke-width="0.35">susceptible</text>
<line x1="1443.3" y1="1062.7" x2="1456.7" y2="1062.7" stroke="#c0c0c0" stroke-width="1.2"/>
<text x="1460.0" y="1066.8" font-size="13.2" text-anchor="start" font-weight="normal" textLength="30.7" lengthAdjust="spacingAndGlyphs"  fill="#c0c0c0" stroke="#c0c0c0" stroke-width="0.35">naive</text>
<line x1="1509.0" y1="1062.7" x2="1522.3" y2="1062.7" stroke="#c0c0c0" stroke-width="1.2"/>
<text x="1526.0" y="1066.8" font-size="13.2" text-anchor="start" font-weight="normal" textLength="54.0" lengthAdjust="spacingAndGlyphs"  fill="#c0c0c0" stroke="#c0c0c0" stroke-width="0.35">nonNaive</text>
<line x1="1599.0" y1="1062.7" x2="1612.3" y2="1062.7" stroke="#C050C8" stroke-width="1.2"/>
<text x="1616.0" y="1066.8" font-size="13.2" text-anchor="start" font-weight="normal" textLength="31.7" lengthAdjust="spacingAndGlyphs"  fill="#8B0A8B" stroke="#8B0A8B" stroke-width="0.35">ICU in</text>
<line x1="1665.0" y1="1062.7" x2="1678.3" y2="1062.7" stroke="#c0c0c0" stroke-width="1.2"/>
<text x="1682.3" y="1066.8" font-size="13.2" text-anchor="start" font-weight="normal" textLength="40.0" lengthAdjust="spacingAndGlyphs"  fill="#c0c0c0" stroke="#c0c0c0" stroke-width="0.35">ICU out</text>
<line x1="1740.0" y1="1062.7" x2="1753.3" y2="1062.7" stroke="#c0c0c0" stroke-width="1.2"/>
<text x="1757.3" y="1066.8" font-size="13.2" text-anchor="start" font-weight="normal" textLength="60.0" lengthAdjust="spacingAndGlyphs"  fill="#c0c0c0" stroke="#c0c0c0" stroke-width="0.35">ICU deaths</text>
<line x1="1838.3" y1="1062.7" x2="1851.7" y2="1062.7" stroke="#c0c0c0" stroke-width="1.2"/>
<text x="1855.7" y="1066.8" font-size="13.2" text-anchor="start" font-weight="normal" textLength="34.3" lengthAdjust="spacingAndGlyphs"  fill="#c0c0c0" stroke="#c0c0c0" stroke-width="0.35">all ICU</text>
<rect x="43.5" y="1061" width="2.7" height="5.5" fill="#FF1010"/>
<rect x="47.5" y="1056.6" width="3" height="9.7" fill="#0A8A1A"/>
<rect x="51.6" y="1058.8" width="2.8" height="7.5" fill="#0A8A1A"/>
<path d="M0.5,1080 V0.5 H1920" fill="none" stroke="#cccccc" stroke-width="1"/>
<path d="M1,1079.5 H1919.5 V1" fill="none" stroke="#ececec" stroke-width="1"/>
<path d="M2,1079 V2 H1919" fill="none" stroke="#6e6e6e" stroke-width="2"/>
<path d="M4,1077.5 H1917.5 V4" fill="none" stroke="#dcdcdc" stroke-width="1"/>
</g>
</svg>
</body></html>
